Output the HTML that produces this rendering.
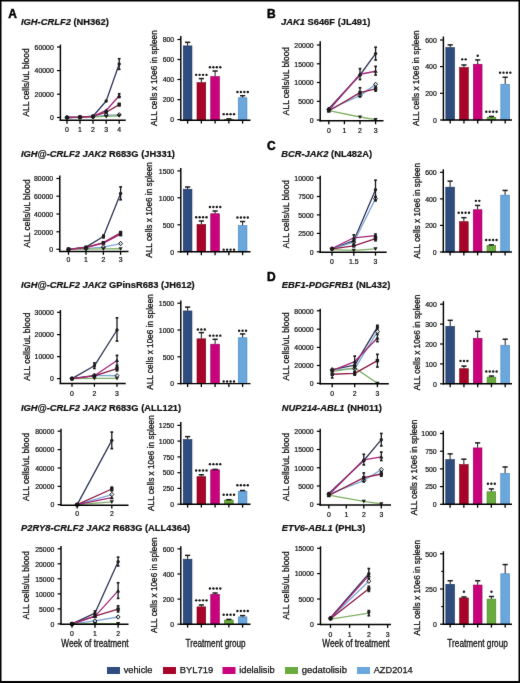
<!DOCTYPE html>
<html><head><meta charset="utf-8"><style>
html,body{margin:0;padding:0;background:#fff;}
svg{display:block;will-change:transform;}
text{font-family:"Liberation Sans", sans-serif;fill:#111;stroke:#111;stroke-width:0.22px;}
text.tk{stroke-width:0.2px;}
text.lg{stroke-width:0.25px;}
text.pl{stroke-width:0.45px;stroke:#000;fill:#000;}
text.xt{stroke-width:0.3px;}
text.yt{stroke-width:0.3px;}
</style></head><body>
<svg width="520" height="683" viewBox="0 0 520 683">
<defs><filter id="soft" x="0" y="0" width="520" height="683" filterUnits="userSpaceOnUse" color-interpolation-filters="sRGB"><feConvolveMatrix order="3" kernelMatrix="0.01 0.05 0.01 0.05 0.76 0.05 0.01 0.05 0.01" edgeMode="duplicate" preserveAlpha="true"/></filter></defs>
<g filter="url(#soft)">
<rect x="0" y="0" width="520" height="683" fill="#000"/>
<rect x="1.5" y="1.5" width="517.0" height="679.5" fill="#fff"/>
<text x="8.20" y="17.50" font-size="12" text-anchor="start" font-weight="bold" fill="#000" class="pl">A</text>
<text x="266.90" y="17.60" font-size="12" text-anchor="start" font-weight="bold" fill="#000" class="pl">B</text>
<text x="266.90" y="149.90" font-size="12" text-anchor="start" font-weight="bold" fill="#000" class="pl">C</text>
<text x="266.90" y="281.20" font-size="12" text-anchor="start" font-weight="bold" fill="#000" class="pl">D</text>
<text x="21.00" y="24.60" font-size="9.9" font-weight="bold" textLength="87.79" lengthAdjust="spacingAndGlyphs"><tspan font-style="italic">IGH-CRLF2</tspan> (NH362)</text>
<text x="20.90" y="157.10" font-size="9.9" font-weight="bold" textLength="154.08" lengthAdjust="spacingAndGlyphs"><tspan font-style="italic">IGH@-CRLF2 JAK2</tspan> R683G (JH331)</text>
<text x="20.90" y="288.00" font-size="9.9" font-weight="bold" textLength="173.82" lengthAdjust="spacingAndGlyphs"><tspan font-style="italic">IGH@-CRLF2 JAK2</tspan> GPinsR683 (JH612)</text>
<text x="20.90" y="410.70" font-size="9.9" font-weight="bold" textLength="160.30" lengthAdjust="spacingAndGlyphs"><tspan font-style="italic">IGH@-CRLF2 JAK2</tspan> R683G (ALL121)</text>
<text x="21.00" y="531.20" font-size="9.9" font-weight="bold" textLength="169.21" lengthAdjust="spacingAndGlyphs"><tspan font-style="italic">P2RY8-CRLF2 JAK2</tspan> R683G (ALL4364)</text>
<text x="281.00" y="24.90" font-size="9.9" font-weight="bold" textLength="89.38" lengthAdjust="spacingAndGlyphs"><tspan font-style="italic">JAK1</tspan> S646F (JL491)</text>
<text x="281.20" y="157.20" font-size="9.9" font-weight="bold" textLength="90.91" lengthAdjust="spacingAndGlyphs"><tspan font-style="italic">BCR-JAK2</tspan> (NL482A)</text>
<text x="281.70" y="288.20" font-size="9.9" font-weight="bold" textLength="108.58" lengthAdjust="spacingAndGlyphs"><tspan font-style="italic">EBF1-PDGFRB1</tspan> (NL432)</text>
<text x="281.70" y="410.80" font-size="9.9" font-weight="bold" textLength="100.28" lengthAdjust="spacingAndGlyphs"><tspan font-style="italic">NUP214-ABL1</tspan> (NH011)</text>
<text x="281.70" y="531.00" font-size="9.9" font-weight="bold" textLength="83.64" lengthAdjust="spacingAndGlyphs"><tspan font-style="italic">ETV6-ABL1</tspan> (PHL3)</text>
<path d="M67.00 117.50 L80.00 117.15 L93.00 116.21 L106.20 101.05 L119.20 64.04" fill="none" stroke="#2e3654" stroke-width="1.3" stroke-linejoin="round"/>
<path d="M67.00 117.50 L80.00 117.27 L93.00 116.80 L106.20 115.15 L119.20 114.80" fill="none" stroke="#80a8d6" stroke-width="1.3" stroke-linejoin="round"/>
<path d="M67.00 117.50 L80.00 117.27 L93.00 116.91 L106.20 116.33 L119.20 115.74" fill="none" stroke="#80b065" stroke-width="1.3" stroke-linejoin="round"/>
<path d="M67.00 117.50 L80.00 117.15 L93.00 116.44 L106.20 112.21 L119.20 104.58" fill="none" stroke="#8a1c44" stroke-width="1.3" stroke-linejoin="round"/>
<path d="M67.00 117.50 L80.00 117.15 L93.00 116.33 L106.20 110.45 L119.20 95.76" fill="none" stroke="#a2267a" stroke-width="1.3" stroke-linejoin="round"/>
<line x1="119.20" y1="69.32" x2="119.20" y2="58.75" stroke="#1a1a1a" stroke-width="1.3"/>
<line x1="117.85" y1="69.32" x2="120.55" y2="69.32" stroke="#1a1a1a" stroke-width="1.7"/>
<line x1="117.85" y1="58.75" x2="120.55" y2="58.75" stroke="#1a1a1a" stroke-width="1.7"/>
<line x1="119.20" y1="105.75" x2="119.20" y2="103.40" stroke="#1a1a1a" stroke-width="1.3"/>
<line x1="117.85" y1="105.75" x2="120.55" y2="105.75" stroke="#1a1a1a" stroke-width="1.7"/>
<line x1="117.85" y1="103.40" x2="120.55" y2="103.40" stroke="#1a1a1a" stroke-width="1.7"/>
<line x1="119.20" y1="97.53" x2="119.20" y2="93.77" stroke="#1a1a1a" stroke-width="1.3"/>
<line x1="117.85" y1="97.53" x2="120.55" y2="97.53" stroke="#1a1a1a" stroke-width="1.7"/>
<line x1="117.85" y1="93.77" x2="120.55" y2="93.77" stroke="#1a1a1a" stroke-width="1.7"/>
<circle cx="67.00" cy="117.50" r="1.7" fill="#1c1c1c"/>
<circle cx="80.00" cy="117.15" r="1.7" fill="#1c1c1c"/>
<circle cx="93.00" cy="116.21" r="1.7" fill="#1c1c1c"/>
<circle cx="106.20" cy="101.05" r="1.7" fill="#1c1c1c"/>
<circle cx="119.20" cy="64.04" r="1.7" fill="#1c1c1c"/>
<path d="M67.00 115.30L69.00 117.50L67.00 119.70L65.00 117.50Z" fill="none" stroke="#1c1c1c" stroke-width="1"/>
<path d="M80.00 115.06L82.00 117.27L80.00 119.47L78.00 117.27Z" fill="none" stroke="#1c1c1c" stroke-width="1"/>
<path d="M93.00 114.59L95.00 116.80L93.00 119.00L91.00 116.80Z" fill="none" stroke="#1c1c1c" stroke-width="1"/>
<path d="M106.20 112.95L108.20 115.15L106.20 117.35L104.20 115.15Z" fill="none" stroke="#1c1c1c" stroke-width="1"/>
<path d="M119.20 112.60L121.20 114.80L119.20 117.00L117.20 114.80Z" fill="none" stroke="#1c1c1c" stroke-width="1"/>
<path d="M67.00 119.60L69.10 115.90L64.90 115.90Z" fill="#1c1c1c"/>
<path d="M80.00 119.36L82.10 115.67L77.90 115.67Z" fill="#1c1c1c"/>
<path d="M93.00 119.01L95.10 115.31L90.90 115.31Z" fill="#1c1c1c"/>
<path d="M106.20 118.42L108.30 114.73L104.10 114.73Z" fill="#1c1c1c"/>
<path d="M119.20 117.84L121.30 114.14L117.10 114.14Z" fill="#1c1c1c"/>
<rect x="65.30" y="115.80" width="3.40" height="3.40" fill="#1c1c1c"/>
<rect x="78.30" y="115.45" width="3.40" height="3.40" fill="#1c1c1c"/>
<rect x="91.30" y="114.74" width="3.40" height="3.40" fill="#1c1c1c"/>
<rect x="104.50" y="110.51" width="3.40" height="3.40" fill="#1c1c1c"/>
<rect x="117.50" y="102.88" width="3.40" height="3.40" fill="#1c1c1c"/>
<path d="M67.00 115.40L69.10 119.10L64.90 119.10Z" fill="#1c1c1c"/>
<path d="M80.00 115.05L82.10 118.75L77.90 118.75Z" fill="#1c1c1c"/>
<path d="M93.00 114.23L95.10 117.92L90.90 117.92Z" fill="#1c1c1c"/>
<path d="M106.20 108.35L108.30 112.05L104.10 112.05Z" fill="#1c1c1c"/>
<path d="M119.20 93.66L121.30 97.36L117.10 97.36Z" fill="#1c1c1c"/>
<line x1="60.40" y1="44.60" x2="60.40" y2="121.00" stroke="#000" stroke-width="1.45"/>
<line x1="59.70" y1="120.30" x2="125.70" y2="120.30" stroke="#000" stroke-width="1.45"/>
<line x1="57.00" y1="47.00" x2="60.40" y2="47.00" stroke="#000" stroke-width="1.2"/>
<text x="53.80" y="49.75" font-size="6.3" text-anchor="end" textLength="19.25" lengthAdjust="spacingAndGlyphs" class="tk">60000</text>
<line x1="57.00" y1="70.60" x2="60.40" y2="70.60" stroke="#000" stroke-width="1.2"/>
<text x="53.80" y="73.35" font-size="6.3" text-anchor="end" textLength="19.25" lengthAdjust="spacingAndGlyphs" class="tk">40000</text>
<line x1="57.00" y1="94.20" x2="60.40" y2="94.20" stroke="#000" stroke-width="1.2"/>
<text x="53.80" y="96.95" font-size="6.3" text-anchor="end" textLength="19.25" lengthAdjust="spacingAndGlyphs" class="tk">20000</text>
<line x1="57.00" y1="117.50" x2="60.40" y2="117.50" stroke="#000" stroke-width="1.2"/>
<text x="53.80" y="120.25" font-size="6.3" text-anchor="end" textLength="3.85" lengthAdjust="spacingAndGlyphs" class="tk">0</text>
<line x1="67.00" y1="120.30" x2="67.00" y2="123.70" stroke="#000" stroke-width="1.3"/>
<text x="67.00" y="132.45" font-size="6.3" text-anchor="middle" textLength="3.85" lengthAdjust="spacingAndGlyphs" class="tk">0</text>
<line x1="80.00" y1="120.30" x2="80.00" y2="123.70" stroke="#000" stroke-width="1.3"/>
<text x="80.00" y="132.45" font-size="6.3" text-anchor="middle" textLength="3.85" lengthAdjust="spacingAndGlyphs" class="tk">1</text>
<line x1="93.00" y1="120.30" x2="93.00" y2="123.70" stroke="#000" stroke-width="1.3"/>
<text x="93.00" y="132.45" font-size="6.3" text-anchor="middle" textLength="3.85" lengthAdjust="spacingAndGlyphs" class="tk">2</text>
<line x1="106.20" y1="120.30" x2="106.20" y2="123.70" stroke="#000" stroke-width="1.3"/>
<text x="106.20" y="132.45" font-size="6.3" text-anchor="middle" textLength="3.85" lengthAdjust="spacingAndGlyphs" class="tk">3</text>
<line x1="119.20" y1="120.30" x2="119.20" y2="123.70" stroke="#000" stroke-width="1.3"/>
<text x="119.20" y="132.45" font-size="6.3" text-anchor="middle" textLength="3.85" lengthAdjust="spacingAndGlyphs" class="tk">4</text>
<text x="29.40" y="82.45" font-size="9.8" text-anchor="middle" textLength="68.20" lengthAdjust="spacingAndGlyphs" transform="rotate(-90 29.40 82.45)" class="yt">ALL cells/uL blood</text>
<rect x="183.25" y="45.90" width="8.70" height="74.30" fill="#2e4c7e" stroke="#1c3358" stroke-width="0.6"/>
<line x1="187.60" y1="42.12" x2="187.60" y2="45.65" stroke="#1c1c1c" stroke-width="1.0"/>
<line x1="185.00" y1="42.32" x2="190.20" y2="42.32" stroke="#1c1c1c" stroke-width="1.5"/>
<rect x="197.00" y="82.67" width="8.70" height="37.53" fill="#a80429" stroke="#780019" stroke-width="0.6"/>
<line x1="201.35" y1="78.39" x2="201.35" y2="82.42" stroke="#1c1c1c" stroke-width="1.0"/>
<line x1="198.75" y1="78.59" x2="203.95" y2="78.59" stroke="#1c1c1c" stroke-width="1.5"/>
<circle cx="196.17" cy="74.86" r="1.2" fill="#151515"/>
<circle cx="199.62" cy="74.86" r="1.2" fill="#151515"/>
<circle cx="203.07" cy="74.86" r="1.2" fill="#151515"/>
<circle cx="206.53" cy="74.86" r="1.2" fill="#151515"/>
<rect x="210.75" y="76.62" width="8.70" height="43.58" fill="#c8037b" stroke="#94005a" stroke-width="0.6"/>
<line x1="215.10" y1="70.83" x2="215.10" y2="76.37" stroke="#1c1c1c" stroke-width="1.0"/>
<line x1="212.50" y1="71.03" x2="217.70" y2="71.03" stroke="#1c1c1c" stroke-width="1.5"/>
<circle cx="209.92" cy="67.31" r="1.2" fill="#151515"/>
<circle cx="213.38" cy="67.31" r="1.2" fill="#151515"/>
<circle cx="216.82" cy="67.31" r="1.2" fill="#151515"/>
<circle cx="220.28" cy="67.31" r="1.2" fill="#151515"/>
<rect x="224.50" y="119.64" width="8.70" height="0.56" fill="#6aab3e" stroke="#4a8028" stroke-width="0.6"/>
<line x1="228.85" y1="118.69" x2="228.85" y2="119.39" stroke="#1c1c1c" stroke-width="1.0"/>
<line x1="226.25" y1="118.89" x2="231.45" y2="118.89" stroke="#1c1c1c" stroke-width="1.5"/>
<circle cx="223.67" cy="114.16" r="1.2" fill="#151515"/>
<circle cx="227.12" cy="114.16" r="1.2" fill="#151515"/>
<circle cx="230.57" cy="114.16" r="1.2" fill="#151515"/>
<circle cx="234.03" cy="114.16" r="1.2" fill="#151515"/>
<rect x="238.25" y="97.78" width="8.70" height="22.42" fill="#6aa7dd" stroke="#4a82b8" stroke-width="0.6"/>
<line x1="242.60" y1="95.52" x2="242.60" y2="97.53" stroke="#1c1c1c" stroke-width="1.0"/>
<line x1="240.00" y1="95.72" x2="245.20" y2="95.72" stroke="#1c1c1c" stroke-width="1.5"/>
<circle cx="237.42" cy="91.99" r="1.2" fill="#151515"/>
<circle cx="240.88" cy="91.99" r="1.2" fill="#151515"/>
<circle cx="244.32" cy="91.99" r="1.2" fill="#151515"/>
<circle cx="247.78" cy="91.99" r="1.2" fill="#151515"/>
<line x1="180.80" y1="36.00" x2="180.80" y2="120.90" stroke="#000" stroke-width="1.45"/>
<line x1="180.10" y1="120.20" x2="250.50" y2="120.20" stroke="#000" stroke-width="1.45"/>
<line x1="177.40" y1="39.50" x2="180.80" y2="39.50" stroke="#000" stroke-width="1.2"/>
<text x="174.20" y="42.25" font-size="6.3" text-anchor="end" textLength="11.55" lengthAdjust="spacingAndGlyphs" class="tk">800</text>
<line x1="177.40" y1="59.50" x2="180.80" y2="59.50" stroke="#000" stroke-width="1.2"/>
<text x="174.20" y="62.25" font-size="6.3" text-anchor="end" textLength="11.55" lengthAdjust="spacingAndGlyphs" class="tk">600</text>
<line x1="177.40" y1="79.50" x2="180.80" y2="79.50" stroke="#000" stroke-width="1.2"/>
<text x="174.20" y="82.25" font-size="6.3" text-anchor="end" textLength="11.55" lengthAdjust="spacingAndGlyphs" class="tk">400</text>
<line x1="177.40" y1="99.60" x2="180.80" y2="99.60" stroke="#000" stroke-width="1.2"/>
<text x="174.20" y="102.35" font-size="6.3" text-anchor="end" textLength="11.55" lengthAdjust="spacingAndGlyphs" class="tk">200</text>
<line x1="177.40" y1="119.60" x2="180.80" y2="119.60" stroke="#000" stroke-width="1.2"/>
<text x="174.20" y="122.35" font-size="6.3" text-anchor="end" textLength="3.85" lengthAdjust="spacingAndGlyphs" class="tk">0</text>
<line x1="187.60" y1="120.20" x2="187.60" y2="123.60" stroke="#000" stroke-width="1.3"/>
<line x1="201.35" y1="120.20" x2="201.35" y2="123.60" stroke="#000" stroke-width="1.3"/>
<line x1="215.10" y1="120.20" x2="215.10" y2="123.60" stroke="#000" stroke-width="1.3"/>
<line x1="228.85" y1="120.20" x2="228.85" y2="123.60" stroke="#000" stroke-width="1.3"/>
<line x1="242.60" y1="120.20" x2="242.60" y2="123.60" stroke="#000" stroke-width="1.3"/>
<text x="157.20" y="78.10" font-size="9.8" text-anchor="middle" textLength="95.70" lengthAdjust="spacingAndGlyphs" transform="rotate(-90 157.20 78.10)" class="yt">ALL cells x 10e6 in spleen</text>
<path d="M68.50 249.30 L86.00 247.09 L103.40 236.47 L120.60 193.55" fill="none" stroke="#2e3654" stroke-width="1.3" stroke-linejoin="round"/>
<path d="M68.50 249.30 L86.00 248.59 L103.40 247.09 L120.60 243.55" fill="none" stroke="#80a8d6" stroke-width="1.3" stroke-linejoin="round"/>
<path d="M68.50 249.30 L86.00 249.03 L103.40 248.86 L120.60 248.77" fill="none" stroke="#80b065" stroke-width="1.3" stroke-linejoin="round"/>
<path d="M68.50 249.30 L86.00 247.35 L103.40 242.66 L120.60 232.93" fill="none" stroke="#8a1c44" stroke-width="1.3" stroke-linejoin="round"/>
<path d="M68.50 249.30 L86.00 247.53 L103.40 243.11 L120.60 234.25" fill="none" stroke="#a2267a" stroke-width="1.3" stroke-linejoin="round"/>
<line x1="103.40" y1="237.80" x2="103.40" y2="235.14" stroke="#1a1a1a" stroke-width="1.3"/>
<line x1="102.05" y1="237.80" x2="104.75" y2="237.80" stroke="#1a1a1a" stroke-width="1.7"/>
<line x1="102.05" y1="235.14" x2="104.75" y2="235.14" stroke="#1a1a1a" stroke-width="1.7"/>
<line x1="120.60" y1="199.74" x2="120.60" y2="186.91" stroke="#1a1a1a" stroke-width="1.3"/>
<line x1="119.25" y1="199.74" x2="121.95" y2="199.74" stroke="#1a1a1a" stroke-width="1.7"/>
<line x1="119.25" y1="186.91" x2="121.95" y2="186.91" stroke="#1a1a1a" stroke-width="1.7"/>
<line x1="120.60" y1="234.25" x2="120.60" y2="231.60" stroke="#1a1a1a" stroke-width="1.3"/>
<line x1="119.25" y1="234.25" x2="121.95" y2="234.25" stroke="#1a1a1a" stroke-width="1.7"/>
<line x1="119.25" y1="231.60" x2="121.95" y2="231.60" stroke="#1a1a1a" stroke-width="1.7"/>
<line x1="120.60" y1="235.58" x2="120.60" y2="232.93" stroke="#1a1a1a" stroke-width="1.3"/>
<line x1="119.25" y1="235.58" x2="121.95" y2="235.58" stroke="#1a1a1a" stroke-width="1.7"/>
<line x1="119.25" y1="232.93" x2="121.95" y2="232.93" stroke="#1a1a1a" stroke-width="1.7"/>
<circle cx="68.50" cy="249.30" r="1.7" fill="#1c1c1c"/>
<circle cx="86.00" cy="247.09" r="1.7" fill="#1c1c1c"/>
<circle cx="103.40" cy="236.47" r="1.7" fill="#1c1c1c"/>
<circle cx="120.60" cy="193.55" r="1.7" fill="#1c1c1c"/>
<path d="M68.50 247.10L70.50 249.30L68.50 251.50L66.50 249.30Z" fill="none" stroke="#1c1c1c" stroke-width="1"/>
<path d="M86.00 246.39L88.00 248.59L86.00 250.79L84.00 248.59Z" fill="none" stroke="#1c1c1c" stroke-width="1"/>
<path d="M103.40 244.89L105.40 247.09L103.40 249.29L101.40 247.09Z" fill="none" stroke="#1c1c1c" stroke-width="1"/>
<path d="M120.60 241.35L122.60 243.55L120.60 245.75L118.60 243.55Z" fill="none" stroke="#1c1c1c" stroke-width="1"/>
<path d="M68.50 251.40L70.60 247.70L66.40 247.70Z" fill="#1c1c1c"/>
<path d="M86.00 251.13L88.10 247.43L83.90 247.43Z" fill="#1c1c1c"/>
<path d="M103.40 250.96L105.50 247.26L101.30 247.26Z" fill="#1c1c1c"/>
<path d="M120.60 250.87L122.70 247.17L118.50 247.17Z" fill="#1c1c1c"/>
<rect x="66.80" y="247.60" width="3.40" height="3.40" fill="#1c1c1c"/>
<rect x="84.30" y="245.65" width="3.40" height="3.40" fill="#1c1c1c"/>
<rect x="101.70" y="240.96" width="3.40" height="3.40" fill="#1c1c1c"/>
<rect x="118.90" y="231.23" width="3.40" height="3.40" fill="#1c1c1c"/>
<path d="M68.50 247.20L70.60 250.90L66.40 250.90Z" fill="#1c1c1c"/>
<path d="M86.00 245.43L88.10 249.13L83.90 249.13Z" fill="#1c1c1c"/>
<path d="M103.40 241.01L105.50 244.71L101.30 244.71Z" fill="#1c1c1c"/>
<path d="M120.60 232.16L122.70 235.85L118.50 235.85Z" fill="#1c1c1c"/>
<line x1="59.80" y1="175.40" x2="59.80" y2="252.10" stroke="#000" stroke-width="1.45"/>
<line x1="59.10" y1="251.40" x2="128.50" y2="251.40" stroke="#000" stroke-width="1.45"/>
<line x1="56.40" y1="178.50" x2="59.80" y2="178.50" stroke="#000" stroke-width="1.2"/>
<text x="53.20" y="181.25" font-size="6.3" text-anchor="end" textLength="19.25" lengthAdjust="spacingAndGlyphs" class="tk">80000</text>
<line x1="56.40" y1="196.20" x2="59.80" y2="196.20" stroke="#000" stroke-width="1.2"/>
<text x="53.20" y="198.95" font-size="6.3" text-anchor="end" textLength="19.25" lengthAdjust="spacingAndGlyphs" class="tk">60000</text>
<line x1="56.40" y1="214.00" x2="59.80" y2="214.00" stroke="#000" stroke-width="1.2"/>
<text x="53.20" y="216.75" font-size="6.3" text-anchor="end" textLength="19.25" lengthAdjust="spacingAndGlyphs" class="tk">40000</text>
<line x1="56.40" y1="231.80" x2="59.80" y2="231.80" stroke="#000" stroke-width="1.2"/>
<text x="53.20" y="234.55" font-size="6.3" text-anchor="end" textLength="19.25" lengthAdjust="spacingAndGlyphs" class="tk">20000</text>
<line x1="56.40" y1="249.30" x2="59.80" y2="249.30" stroke="#000" stroke-width="1.2"/>
<text x="53.20" y="252.05" font-size="6.3" text-anchor="end" textLength="3.85" lengthAdjust="spacingAndGlyphs" class="tk">0</text>
<line x1="68.50" y1="251.40" x2="68.50" y2="254.80" stroke="#000" stroke-width="1.3"/>
<text x="68.50" y="262.35" font-size="6.3" text-anchor="middle" textLength="3.85" lengthAdjust="spacingAndGlyphs" class="tk">0</text>
<line x1="86.00" y1="251.40" x2="86.00" y2="254.80" stroke="#000" stroke-width="1.3"/>
<text x="86.00" y="262.35" font-size="6.3" text-anchor="middle" textLength="3.85" lengthAdjust="spacingAndGlyphs" class="tk">1</text>
<line x1="103.40" y1="251.40" x2="103.40" y2="254.80" stroke="#000" stroke-width="1.3"/>
<text x="103.40" y="262.35" font-size="6.3" text-anchor="middle" textLength="3.85" lengthAdjust="spacingAndGlyphs" class="tk">2</text>
<line x1="120.60" y1="251.40" x2="120.60" y2="254.80" stroke="#000" stroke-width="1.3"/>
<text x="120.60" y="262.35" font-size="6.3" text-anchor="middle" textLength="3.85" lengthAdjust="spacingAndGlyphs" class="tk">3</text>
<text x="29.60" y="213.40" font-size="9.8" text-anchor="middle" textLength="68.20" lengthAdjust="spacingAndGlyphs" transform="rotate(-90 29.60 213.40)" class="yt">ALL cells/uL blood</text>
<rect x="183.25" y="189.22" width="8.70" height="62.58" fill="#2e4c7e" stroke="#1c3358" stroke-width="0.6"/>
<line x1="187.60" y1="186.81" x2="187.60" y2="188.97" stroke="#1c1c1c" stroke-width="1.0"/>
<line x1="185.00" y1="187.01" x2="190.20" y2="187.01" stroke="#1c1c1c" stroke-width="1.5"/>
<rect x="197.00" y="224.54" width="8.70" height="27.26" fill="#a80429" stroke="#780019" stroke-width="0.6"/>
<line x1="201.35" y1="220.79" x2="201.35" y2="224.29" stroke="#1c1c1c" stroke-width="1.0"/>
<line x1="198.75" y1="220.99" x2="203.95" y2="220.99" stroke="#1c1c1c" stroke-width="1.5"/>
<circle cx="196.17" cy="217.28" r="1.2" fill="#151515"/>
<circle cx="199.62" cy="217.28" r="1.2" fill="#151515"/>
<circle cx="203.07" cy="217.28" r="1.2" fill="#151515"/>
<circle cx="206.53" cy="217.28" r="1.2" fill="#151515"/>
<rect x="210.75" y="213.76" width="8.70" height="38.04" fill="#c8037b" stroke="#94005a" stroke-width="0.6"/>
<line x1="215.10" y1="210.81" x2="215.10" y2="213.51" stroke="#1c1c1c" stroke-width="1.0"/>
<line x1="212.50" y1="211.01" x2="217.70" y2="211.01" stroke="#1c1c1c" stroke-width="1.5"/>
<circle cx="209.92" cy="207.04" r="1.2" fill="#151515"/>
<circle cx="213.38" cy="207.04" r="1.2" fill="#151515"/>
<circle cx="216.82" cy="207.04" r="1.2" fill="#151515"/>
<circle cx="220.28" cy="207.04" r="1.2" fill="#151515"/>
<circle cx="223.67" cy="249.64" r="1.2" fill="#151515"/>
<circle cx="227.12" cy="249.64" r="1.2" fill="#151515"/>
<circle cx="230.57" cy="249.64" r="1.2" fill="#151515"/>
<circle cx="234.03" cy="249.64" r="1.2" fill="#151515"/>
<rect x="238.25" y="225.62" width="8.70" height="26.18" fill="#6aa7dd" stroke="#4a82b8" stroke-width="0.6"/>
<line x1="242.60" y1="221.33" x2="242.60" y2="225.37" stroke="#1c1c1c" stroke-width="1.0"/>
<line x1="240.00" y1="221.53" x2="245.20" y2="221.53" stroke="#1c1c1c" stroke-width="1.5"/>
<circle cx="237.42" cy="217.55" r="1.2" fill="#151515"/>
<circle cx="240.88" cy="217.55" r="1.2" fill="#151515"/>
<circle cx="244.32" cy="217.55" r="1.2" fill="#151515"/>
<circle cx="247.78" cy="217.55" r="1.2" fill="#151515"/>
<line x1="180.80" y1="168.00" x2="180.80" y2="252.50" stroke="#000" stroke-width="1.45"/>
<line x1="180.10" y1="251.80" x2="250.50" y2="251.80" stroke="#000" stroke-width="1.45"/>
<line x1="177.40" y1="170.90" x2="180.80" y2="170.90" stroke="#000" stroke-width="1.2"/>
<text x="174.20" y="173.65" font-size="6.3" text-anchor="end" textLength="15.40" lengthAdjust="spacingAndGlyphs" class="tk">1500</text>
<line x1="177.40" y1="197.80" x2="180.80" y2="197.80" stroke="#000" stroke-width="1.2"/>
<text x="174.20" y="200.55" font-size="6.3" text-anchor="end" textLength="15.40" lengthAdjust="spacingAndGlyphs" class="tk">1000</text>
<line x1="177.40" y1="224.80" x2="180.80" y2="224.80" stroke="#000" stroke-width="1.2"/>
<text x="174.20" y="227.55" font-size="6.3" text-anchor="end" textLength="11.55" lengthAdjust="spacingAndGlyphs" class="tk">500</text>
<line x1="177.40" y1="251.80" x2="180.80" y2="251.80" stroke="#000" stroke-width="1.2"/>
<text x="174.20" y="254.55" font-size="6.3" text-anchor="end" textLength="3.85" lengthAdjust="spacingAndGlyphs" class="tk">0</text>
<line x1="187.60" y1="251.80" x2="187.60" y2="255.20" stroke="#000" stroke-width="1.3"/>
<line x1="201.35" y1="251.80" x2="201.35" y2="255.20" stroke="#000" stroke-width="1.3"/>
<line x1="215.10" y1="251.80" x2="215.10" y2="255.20" stroke="#000" stroke-width="1.3"/>
<line x1="228.85" y1="251.80" x2="228.85" y2="255.20" stroke="#000" stroke-width="1.3"/>
<line x1="242.60" y1="251.80" x2="242.60" y2="255.20" stroke="#000" stroke-width="1.3"/>
<text x="152.40" y="209.90" font-size="9.8" text-anchor="middle" textLength="95.70" lengthAdjust="spacingAndGlyphs" transform="rotate(-90 152.40 209.90)" class="yt">ALL cells x 10e6 in spleen</text>
<path d="M72.00 378.60 L94.40 365.78 L117.00 329.98" fill="none" stroke="#2e3654" stroke-width="1.3" stroke-linejoin="round"/>
<path d="M72.00 378.60 L94.40 375.29 L117.00 375.73" fill="none" stroke="#80a8d6" stroke-width="1.3" stroke-linejoin="round"/>
<path d="M72.00 378.60 L94.40 378.38 L117.00 378.38" fill="none" stroke="#80b065" stroke-width="1.3" stroke-linejoin="round"/>
<path d="M72.00 378.60 L94.40 375.95 L117.00 368.66" fill="none" stroke="#8a1c44" stroke-width="1.3" stroke-linejoin="round"/>
<path d="M72.00 378.60 L94.40 375.73 L117.00 360.48" fill="none" stroke="#a2267a" stroke-width="1.3" stroke-linejoin="round"/>
<line x1="94.40" y1="368.43" x2="94.40" y2="362.91" stroke="#1a1a1a" stroke-width="1.3"/>
<line x1="93.05" y1="368.43" x2="95.75" y2="368.43" stroke="#1a1a1a" stroke-width="1.7"/>
<line x1="93.05" y1="362.91" x2="95.75" y2="362.91" stroke="#1a1a1a" stroke-width="1.7"/>
<line x1="117.00" y1="341.03" x2="117.00" y2="317.82" stroke="#1a1a1a" stroke-width="1.3"/>
<line x1="115.65" y1="341.03" x2="118.35" y2="341.03" stroke="#1a1a1a" stroke-width="1.7"/>
<line x1="115.65" y1="317.82" x2="118.35" y2="317.82" stroke="#1a1a1a" stroke-width="1.7"/>
<line x1="117.00" y1="370.87" x2="117.00" y2="366.44" stroke="#1a1a1a" stroke-width="1.3"/>
<line x1="115.65" y1="370.87" x2="118.35" y2="370.87" stroke="#1a1a1a" stroke-width="1.7"/>
<line x1="115.65" y1="366.44" x2="118.35" y2="366.44" stroke="#1a1a1a" stroke-width="1.7"/>
<line x1="117.00" y1="365.34" x2="117.00" y2="355.40" stroke="#1a1a1a" stroke-width="1.3"/>
<line x1="115.65" y1="365.34" x2="118.35" y2="365.34" stroke="#1a1a1a" stroke-width="1.7"/>
<line x1="115.65" y1="355.40" x2="118.35" y2="355.40" stroke="#1a1a1a" stroke-width="1.7"/>
<circle cx="72.00" cy="378.60" r="1.7" fill="#1c1c1c"/>
<circle cx="94.40" cy="365.78" r="1.7" fill="#1c1c1c"/>
<circle cx="117.00" cy="329.98" r="1.7" fill="#1c1c1c"/>
<path d="M72.00 376.40L74.00 378.60L72.00 380.80L70.00 378.60Z" fill="none" stroke="#1c1c1c" stroke-width="1"/>
<path d="M94.40 373.09L96.40 375.29L94.40 377.49L92.40 375.29Z" fill="none" stroke="#1c1c1c" stroke-width="1"/>
<path d="M117.00 373.53L119.00 375.73L117.00 377.93L115.00 375.73Z" fill="none" stroke="#1c1c1c" stroke-width="1"/>
<path d="M72.00 380.70L74.10 377.00L69.90 377.00Z" fill="#1c1c1c"/>
<path d="M94.40 380.48L96.50 376.78L92.30 376.78Z" fill="#1c1c1c"/>
<path d="M117.00 380.48L119.10 376.78L114.90 376.78Z" fill="#1c1c1c"/>
<rect x="70.30" y="376.90" width="3.40" height="3.40" fill="#1c1c1c"/>
<rect x="92.70" y="374.25" width="3.40" height="3.40" fill="#1c1c1c"/>
<rect x="115.30" y="366.96" width="3.40" height="3.40" fill="#1c1c1c"/>
<path d="M72.00 376.50L74.10 380.20L69.90 380.20Z" fill="#1c1c1c"/>
<path d="M94.40 373.63L96.50 377.33L92.30 377.33Z" fill="#1c1c1c"/>
<path d="M117.00 358.38L119.10 362.08L114.90 362.08Z" fill="#1c1c1c"/>
<line x1="60.40" y1="310.00" x2="60.40" y2="384.10" stroke="#000" stroke-width="1.45"/>
<line x1="59.70" y1="383.40" x2="125.70" y2="383.40" stroke="#000" stroke-width="1.45"/>
<line x1="57.00" y1="312.30" x2="60.40" y2="312.30" stroke="#000" stroke-width="1.2"/>
<text x="53.80" y="315.05" font-size="6.3" text-anchor="end" textLength="19.25" lengthAdjust="spacingAndGlyphs" class="tk">30000</text>
<line x1="57.00" y1="334.60" x2="60.40" y2="334.60" stroke="#000" stroke-width="1.2"/>
<text x="53.80" y="337.35" font-size="6.3" text-anchor="end" textLength="19.25" lengthAdjust="spacingAndGlyphs" class="tk">20000</text>
<line x1="57.00" y1="356.60" x2="60.40" y2="356.60" stroke="#000" stroke-width="1.2"/>
<text x="53.80" y="359.35" font-size="6.3" text-anchor="end" textLength="19.25" lengthAdjust="spacingAndGlyphs" class="tk">10000</text>
<line x1="57.00" y1="378.60" x2="60.40" y2="378.60" stroke="#000" stroke-width="1.2"/>
<text x="53.80" y="381.35" font-size="6.3" text-anchor="end" textLength="3.85" lengthAdjust="spacingAndGlyphs" class="tk">0</text>
<line x1="72.00" y1="383.40" x2="72.00" y2="386.80" stroke="#000" stroke-width="1.3"/>
<text x="72.00" y="395.75" font-size="6.3" text-anchor="middle" textLength="3.85" lengthAdjust="spacingAndGlyphs" class="tk">0</text>
<line x1="94.40" y1="383.40" x2="94.40" y2="386.80" stroke="#000" stroke-width="1.3"/>
<text x="94.40" y="395.75" font-size="6.3" text-anchor="middle" textLength="3.85" lengthAdjust="spacingAndGlyphs" class="tk">2</text>
<line x1="117.00" y1="383.40" x2="117.00" y2="386.80" stroke="#000" stroke-width="1.3"/>
<text x="117.00" y="395.75" font-size="6.3" text-anchor="middle" textLength="3.85" lengthAdjust="spacingAndGlyphs" class="tk">3</text>
<text x="29.60" y="346.70" font-size="9.8" text-anchor="middle" textLength="68.20" lengthAdjust="spacingAndGlyphs" transform="rotate(-90 29.60 346.70)" class="yt">ALL cells/uL blood</text>
<rect x="183.25" y="310.95" width="8.70" height="72.65" fill="#2e4c7e" stroke="#1c3358" stroke-width="0.6"/>
<line x1="187.60" y1="306.95" x2="187.60" y2="310.70" stroke="#1c1c1c" stroke-width="1.0"/>
<line x1="185.00" y1="307.15" x2="190.20" y2="307.15" stroke="#1c1c1c" stroke-width="1.5"/>
<rect x="197.00" y="338.83" width="8.70" height="44.77" fill="#a80429" stroke="#780019" stroke-width="0.6"/>
<line x1="201.35" y1="332.41" x2="201.35" y2="338.58" stroke="#1c1c1c" stroke-width="1.0"/>
<line x1="198.75" y1="332.61" x2="203.95" y2="332.61" stroke="#1c1c1c" stroke-width="1.5"/>
<circle cx="197.90" cy="329.46" r="1.2" fill="#151515"/>
<circle cx="201.35" cy="329.46" r="1.2" fill="#151515"/>
<circle cx="204.80" cy="329.46" r="1.2" fill="#151515"/>
<rect x="210.75" y="344.19" width="8.70" height="39.41" fill="#c8037b" stroke="#94005a" stroke-width="0.6"/>
<line x1="215.10" y1="339.11" x2="215.10" y2="343.94" stroke="#1c1c1c" stroke-width="1.0"/>
<line x1="212.50" y1="339.31" x2="217.70" y2="339.31" stroke="#1c1c1c" stroke-width="1.5"/>
<circle cx="209.92" cy="335.63" r="1.2" fill="#151515"/>
<circle cx="213.38" cy="335.63" r="1.2" fill="#151515"/>
<circle cx="216.82" cy="335.63" r="1.2" fill="#151515"/>
<circle cx="220.28" cy="335.63" r="1.2" fill="#151515"/>
<circle cx="223.67" cy="381.46" r="1.2" fill="#151515"/>
<circle cx="227.12" cy="381.46" r="1.2" fill="#151515"/>
<circle cx="230.57" cy="381.46" r="1.2" fill="#151515"/>
<circle cx="234.03" cy="381.46" r="1.2" fill="#151515"/>
<rect x="238.25" y="337.75" width="8.70" height="45.85" fill="#6aa7dd" stroke="#4a82b8" stroke-width="0.6"/>
<line x1="242.60" y1="333.75" x2="242.60" y2="337.50" stroke="#1c1c1c" stroke-width="1.0"/>
<line x1="240.00" y1="333.95" x2="245.20" y2="333.95" stroke="#1c1c1c" stroke-width="1.5"/>
<circle cx="239.15" cy="330.80" r="1.2" fill="#151515"/>
<circle cx="242.60" cy="330.80" r="1.2" fill="#151515"/>
<circle cx="246.05" cy="330.80" r="1.2" fill="#151515"/>
<line x1="180.80" y1="300.40" x2="180.80" y2="384.30" stroke="#000" stroke-width="1.45"/>
<line x1="180.10" y1="383.60" x2="250.50" y2="383.60" stroke="#000" stroke-width="1.45"/>
<line x1="177.40" y1="303.20" x2="180.80" y2="303.20" stroke="#000" stroke-width="1.2"/>
<text x="174.20" y="305.95" font-size="6.3" text-anchor="end" textLength="15.40" lengthAdjust="spacingAndGlyphs" class="tk">1500</text>
<line x1="177.40" y1="330.00" x2="180.80" y2="330.00" stroke="#000" stroke-width="1.2"/>
<text x="174.20" y="332.75" font-size="6.3" text-anchor="end" textLength="15.40" lengthAdjust="spacingAndGlyphs" class="tk">1000</text>
<line x1="177.40" y1="356.80" x2="180.80" y2="356.80" stroke="#000" stroke-width="1.2"/>
<text x="174.20" y="359.55" font-size="6.3" text-anchor="end" textLength="11.55" lengthAdjust="spacingAndGlyphs" class="tk">500</text>
<line x1="177.40" y1="383.60" x2="180.80" y2="383.60" stroke="#000" stroke-width="1.2"/>
<text x="174.20" y="386.35" font-size="6.3" text-anchor="end" textLength="3.85" lengthAdjust="spacingAndGlyphs" class="tk">0</text>
<line x1="187.60" y1="383.60" x2="187.60" y2="387.00" stroke="#000" stroke-width="1.3"/>
<line x1="201.35" y1="383.60" x2="201.35" y2="387.00" stroke="#000" stroke-width="1.3"/>
<line x1="215.10" y1="383.60" x2="215.10" y2="387.00" stroke="#000" stroke-width="1.3"/>
<line x1="228.85" y1="383.60" x2="228.85" y2="387.00" stroke="#000" stroke-width="1.3"/>
<line x1="242.60" y1="383.60" x2="242.60" y2="387.00" stroke="#000" stroke-width="1.3"/>
<text x="152.70" y="342.00" font-size="9.8" text-anchor="middle" textLength="95.70" lengthAdjust="spacingAndGlyphs" transform="rotate(-90 152.70 342.00)" class="yt">ALL cells x 10e6 in spleen</text>
<path d="M77.20 504.60 L111.80 440.38" fill="none" stroke="#2e3654" stroke-width="1.3" stroke-linejoin="round"/>
<path d="M77.20 504.60 L111.80 494.51" fill="none" stroke="#80a8d6" stroke-width="1.3" stroke-linejoin="round"/>
<path d="M77.20 504.60 L111.80 501.85" fill="none" stroke="#80b065" stroke-width="1.3" stroke-linejoin="round"/>
<path d="M77.20 504.60 L111.80 489.00" fill="none" stroke="#8a1c44" stroke-width="1.3" stroke-linejoin="round"/>
<path d="M77.20 504.60 L111.80 497.72" fill="none" stroke="#a2267a" stroke-width="1.3" stroke-linejoin="round"/>
<line x1="111.80" y1="448.63" x2="111.80" y2="432.12" stroke="#1a1a1a" stroke-width="1.3"/>
<line x1="110.45" y1="448.63" x2="113.15" y2="448.63" stroke="#1a1a1a" stroke-width="1.7"/>
<line x1="110.45" y1="432.12" x2="113.15" y2="432.12" stroke="#1a1a1a" stroke-width="1.7"/>
<line x1="111.80" y1="490.84" x2="111.80" y2="487.17" stroke="#1a1a1a" stroke-width="1.3"/>
<line x1="110.45" y1="490.84" x2="113.15" y2="490.84" stroke="#1a1a1a" stroke-width="1.7"/>
<line x1="110.45" y1="487.17" x2="113.15" y2="487.17" stroke="#1a1a1a" stroke-width="1.7"/>
<circle cx="77.20" cy="504.60" r="1.7" fill="#1c1c1c"/>
<circle cx="111.80" cy="440.38" r="1.7" fill="#1c1c1c"/>
<path d="M77.20 502.40L79.20 504.60L77.20 506.80L75.20 504.60Z" fill="none" stroke="#1c1c1c" stroke-width="1"/>
<path d="M111.80 492.31L113.80 494.51L111.80 496.71L109.80 494.51Z" fill="none" stroke="#1c1c1c" stroke-width="1"/>
<path d="M77.20 506.70L79.30 503.00L75.10 503.00Z" fill="#1c1c1c"/>
<path d="M111.80 503.95L113.90 500.25L109.70 500.25Z" fill="#1c1c1c"/>
<rect x="75.50" y="502.90" width="3.40" height="3.40" fill="#1c1c1c"/>
<rect x="110.10" y="487.30" width="3.40" height="3.40" fill="#1c1c1c"/>
<path d="M77.20 502.50L79.30 506.20L75.10 506.20Z" fill="#1c1c1c"/>
<path d="M111.80 495.62L113.90 499.32L109.70 499.32Z" fill="#1c1c1c"/>
<line x1="61.00" y1="428.80" x2="61.00" y2="505.90" stroke="#000" stroke-width="1.45"/>
<line x1="60.30" y1="505.20" x2="128.50" y2="505.20" stroke="#000" stroke-width="1.45"/>
<line x1="57.60" y1="431.20" x2="61.00" y2="431.20" stroke="#000" stroke-width="1.2"/>
<text x="54.40" y="433.95" font-size="6.3" text-anchor="end" textLength="19.25" lengthAdjust="spacingAndGlyphs" class="tk">80000</text>
<line x1="57.60" y1="449.60" x2="61.00" y2="449.60" stroke="#000" stroke-width="1.2"/>
<text x="54.40" y="452.35" font-size="6.3" text-anchor="end" textLength="19.25" lengthAdjust="spacingAndGlyphs" class="tk">60000</text>
<line x1="57.60" y1="468.00" x2="61.00" y2="468.00" stroke="#000" stroke-width="1.2"/>
<text x="54.40" y="470.75" font-size="6.3" text-anchor="end" textLength="19.25" lengthAdjust="spacingAndGlyphs" class="tk">40000</text>
<line x1="57.60" y1="486.40" x2="61.00" y2="486.40" stroke="#000" stroke-width="1.2"/>
<text x="54.40" y="489.15" font-size="6.3" text-anchor="end" textLength="19.25" lengthAdjust="spacingAndGlyphs" class="tk">20000</text>
<line x1="57.60" y1="504.60" x2="61.00" y2="504.60" stroke="#000" stroke-width="1.2"/>
<text x="54.40" y="507.35" font-size="6.3" text-anchor="end" textLength="3.85" lengthAdjust="spacingAndGlyphs" class="tk">0</text>
<line x1="77.20" y1="505.20" x2="77.20" y2="508.60" stroke="#000" stroke-width="1.3"/>
<text x="77.20" y="516.15" font-size="6.3" text-anchor="middle" textLength="3.85" lengthAdjust="spacingAndGlyphs" class="tk">0</text>
<line x1="111.80" y1="505.20" x2="111.80" y2="508.60" stroke="#000" stroke-width="1.3"/>
<text x="111.80" y="516.15" font-size="6.3" text-anchor="middle" textLength="3.85" lengthAdjust="spacingAndGlyphs" class="tk">2</text>
<text x="29.40" y="467.00" font-size="9.8" text-anchor="middle" textLength="68.20" lengthAdjust="spacingAndGlyphs" transform="rotate(-90 29.40 467.00)" class="yt">ALL cells/uL blood</text>
<rect x="183.25" y="439.52" width="8.70" height="64.68" fill="#2e4c7e" stroke="#1c3358" stroke-width="0.6"/>
<line x1="187.60" y1="436.43" x2="187.60" y2="439.27" stroke="#1c1c1c" stroke-width="1.0"/>
<line x1="185.00" y1="436.63" x2="190.20" y2="436.63" stroke="#1c1c1c" stroke-width="1.5"/>
<rect x="197.00" y="476.71" width="8.70" height="27.49" fill="#a80429" stroke="#780019" stroke-width="0.6"/>
<line x1="201.35" y1="474.57" x2="201.35" y2="476.46" stroke="#1c1c1c" stroke-width="1.0"/>
<line x1="198.75" y1="474.77" x2="203.95" y2="474.77" stroke="#1c1c1c" stroke-width="1.5"/>
<circle cx="196.17" cy="470.47" r="1.2" fill="#151515"/>
<circle cx="199.62" cy="470.47" r="1.2" fill="#151515"/>
<circle cx="203.07" cy="470.47" r="1.2" fill="#151515"/>
<circle cx="206.53" cy="470.47" r="1.2" fill="#151515"/>
<rect x="210.75" y="469.78" width="8.70" height="34.42" fill="#c8037b" stroke="#94005a" stroke-width="0.6"/>
<line x1="215.10" y1="469.21" x2="215.10" y2="469.53" stroke="#1c1c1c" stroke-width="1.0"/>
<line x1="212.50" y1="469.41" x2="217.70" y2="469.41" stroke="#1c1c1c" stroke-width="1.5"/>
<circle cx="209.92" cy="464.17" r="1.2" fill="#151515"/>
<circle cx="213.38" cy="464.17" r="1.2" fill="#151515"/>
<circle cx="216.82" cy="464.17" r="1.2" fill="#151515"/>
<circle cx="220.28" cy="464.17" r="1.2" fill="#151515"/>
<rect x="224.50" y="500.04" width="8.70" height="4.16" fill="#6aab3e" stroke="#4a8028" stroke-width="0.6"/>
<line x1="228.85" y1="499.47" x2="228.85" y2="499.79" stroke="#1c1c1c" stroke-width="1.0"/>
<line x1="226.25" y1="499.67" x2="231.45" y2="499.67" stroke="#1c1c1c" stroke-width="1.5"/>
<circle cx="223.67" cy="494.74" r="1.2" fill="#151515"/>
<circle cx="227.12" cy="494.74" r="1.2" fill="#151515"/>
<circle cx="230.57" cy="494.74" r="1.2" fill="#151515"/>
<circle cx="234.03" cy="494.74" r="1.2" fill="#151515"/>
<rect x="238.25" y="491.21" width="8.70" height="12.99" fill="#6aa7dd" stroke="#4a82b8" stroke-width="0.6"/>
<line x1="242.60" y1="490.33" x2="242.60" y2="490.96" stroke="#1c1c1c" stroke-width="1.0"/>
<line x1="240.00" y1="490.53" x2="245.20" y2="490.53" stroke="#1c1c1c" stroke-width="1.5"/>
<circle cx="237.42" cy="485.29" r="1.2" fill="#151515"/>
<circle cx="240.88" cy="485.29" r="1.2" fill="#151515"/>
<circle cx="244.32" cy="485.29" r="1.2" fill="#151515"/>
<circle cx="247.78" cy="485.29" r="1.2" fill="#151515"/>
<line x1="180.80" y1="422.00" x2="180.80" y2="504.90" stroke="#000" stroke-width="1.45"/>
<line x1="180.10" y1="504.20" x2="250.50" y2="504.20" stroke="#000" stroke-width="1.45"/>
<line x1="177.40" y1="425.40" x2="180.80" y2="425.40" stroke="#000" stroke-width="1.2"/>
<text x="174.20" y="428.15" font-size="6.3" text-anchor="end" textLength="15.40" lengthAdjust="spacingAndGlyphs" class="tk">1250</text>
<line x1="177.40" y1="441.10" x2="180.80" y2="441.10" stroke="#000" stroke-width="1.2"/>
<text x="174.20" y="443.85" font-size="6.3" text-anchor="end" textLength="15.40" lengthAdjust="spacingAndGlyphs" class="tk">1000</text>
<line x1="177.40" y1="456.90" x2="180.80" y2="456.90" stroke="#000" stroke-width="1.2"/>
<text x="174.20" y="459.65" font-size="6.3" text-anchor="end" textLength="11.55" lengthAdjust="spacingAndGlyphs" class="tk">750</text>
<line x1="177.40" y1="472.70" x2="180.80" y2="472.70" stroke="#000" stroke-width="1.2"/>
<text x="174.20" y="475.45" font-size="6.3" text-anchor="end" textLength="11.55" lengthAdjust="spacingAndGlyphs" class="tk">500</text>
<line x1="177.40" y1="488.40" x2="180.80" y2="488.40" stroke="#000" stroke-width="1.2"/>
<text x="174.20" y="491.15" font-size="6.3" text-anchor="end" textLength="11.55" lengthAdjust="spacingAndGlyphs" class="tk">250</text>
<line x1="177.40" y1="504.20" x2="180.80" y2="504.20" stroke="#000" stroke-width="1.2"/>
<text x="174.20" y="506.95" font-size="6.3" text-anchor="end" textLength="3.85" lengthAdjust="spacingAndGlyphs" class="tk">0</text>
<line x1="187.60" y1="504.20" x2="187.60" y2="507.60" stroke="#000" stroke-width="1.3"/>
<line x1="201.35" y1="504.20" x2="201.35" y2="507.60" stroke="#000" stroke-width="1.3"/>
<line x1="215.10" y1="504.20" x2="215.10" y2="507.60" stroke="#000" stroke-width="1.3"/>
<line x1="228.85" y1="504.20" x2="228.85" y2="507.60" stroke="#000" stroke-width="1.3"/>
<line x1="242.60" y1="504.20" x2="242.60" y2="507.60" stroke="#000" stroke-width="1.3"/>
<text x="154.30" y="463.10" font-size="9.8" text-anchor="middle" textLength="95.70" lengthAdjust="spacingAndGlyphs" transform="rotate(-90 154.30 463.10)" class="yt">ALL cells x 10e6 in spleen</text>
<path d="M72.00 623.90 L95.00 613.09 L118.10 561.72" fill="none" stroke="#2e3654" stroke-width="1.3" stroke-linejoin="round"/>
<path d="M72.00 623.90 L95.00 620.90 L118.10 616.99" fill="none" stroke="#80a8d6" stroke-width="1.3" stroke-linejoin="round"/>
<path d="M72.00 623.90 L95.00 623.60 L118.10 623.60" fill="none" stroke="#80b065" stroke-width="1.3" stroke-linejoin="round"/>
<path d="M72.00 623.90 L95.00 616.09 L118.10 609.18" fill="none" stroke="#8a1c44" stroke-width="1.3" stroke-linejoin="round"/>
<path d="M72.00 623.90 L95.00 616.39 L118.10 590.86" fill="none" stroke="#a2267a" stroke-width="1.3" stroke-linejoin="round"/>
<line x1="95.00" y1="614.89" x2="95.00" y2="610.98" stroke="#1a1a1a" stroke-width="1.3"/>
<line x1="93.65" y1="614.89" x2="96.35" y2="614.89" stroke="#1a1a1a" stroke-width="1.7"/>
<line x1="93.65" y1="610.98" x2="96.35" y2="610.98" stroke="#1a1a1a" stroke-width="1.7"/>
<line x1="118.10" y1="565.92" x2="118.10" y2="557.21" stroke="#1a1a1a" stroke-width="1.3"/>
<line x1="116.75" y1="565.92" x2="119.45" y2="565.92" stroke="#1a1a1a" stroke-width="1.7"/>
<line x1="116.75" y1="557.21" x2="119.45" y2="557.21" stroke="#1a1a1a" stroke-width="1.7"/>
<line x1="118.10" y1="611.88" x2="118.10" y2="605.88" stroke="#1a1a1a" stroke-width="1.3"/>
<line x1="116.75" y1="611.88" x2="119.45" y2="611.88" stroke="#1a1a1a" stroke-width="1.7"/>
<line x1="116.75" y1="605.88" x2="119.45" y2="605.88" stroke="#1a1a1a" stroke-width="1.7"/>
<line x1="118.10" y1="598.37" x2="118.10" y2="582.75" stroke="#1a1a1a" stroke-width="1.3"/>
<line x1="116.75" y1="598.37" x2="119.45" y2="598.37" stroke="#1a1a1a" stroke-width="1.7"/>
<line x1="116.75" y1="582.75" x2="119.45" y2="582.75" stroke="#1a1a1a" stroke-width="1.7"/>
<circle cx="72.00" cy="623.90" r="1.7" fill="#1c1c1c"/>
<circle cx="95.00" cy="613.09" r="1.7" fill="#1c1c1c"/>
<circle cx="118.10" cy="561.72" r="1.7" fill="#1c1c1c"/>
<path d="M72.00 621.70L74.00 623.90L72.00 626.10L70.00 623.90Z" fill="none" stroke="#1c1c1c" stroke-width="1"/>
<path d="M95.00 618.70L97.00 620.90L95.00 623.10L93.00 620.90Z" fill="none" stroke="#1c1c1c" stroke-width="1"/>
<path d="M118.10 614.79L120.10 616.99L118.10 619.19L116.10 616.99Z" fill="none" stroke="#1c1c1c" stroke-width="1"/>
<path d="M72.00 626.00L74.10 622.30L69.90 622.30Z" fill="#1c1c1c"/>
<path d="M95.00 625.70L97.10 622.00L92.90 622.00Z" fill="#1c1c1c"/>
<path d="M118.10 625.70L120.20 622.00L116.00 622.00Z" fill="#1c1c1c"/>
<rect x="70.30" y="622.20" width="3.40" height="3.40" fill="#1c1c1c"/>
<rect x="93.30" y="614.39" width="3.40" height="3.40" fill="#1c1c1c"/>
<rect x="116.40" y="607.48" width="3.40" height="3.40" fill="#1c1c1c"/>
<path d="M72.00 621.80L74.10 625.50L69.90 625.50Z" fill="#1c1c1c"/>
<path d="M95.00 614.29L97.10 617.99L92.90 617.99Z" fill="#1c1c1c"/>
<path d="M118.10 588.76L120.20 592.46L116.00 592.46Z" fill="#1c1c1c"/>
<line x1="61.00" y1="546.00" x2="61.00" y2="625.00" stroke="#000" stroke-width="1.45"/>
<line x1="60.30" y1="624.30" x2="128.50" y2="624.30" stroke="#000" stroke-width="1.45"/>
<line x1="57.60" y1="548.80" x2="61.00" y2="548.80" stroke="#000" stroke-width="1.2"/>
<text x="54.40" y="551.55" font-size="6.3" text-anchor="end" textLength="19.25" lengthAdjust="spacingAndGlyphs" class="tk">25000</text>
<line x1="57.60" y1="563.80" x2="61.00" y2="563.80" stroke="#000" stroke-width="1.2"/>
<text x="54.40" y="566.55" font-size="6.3" text-anchor="end" textLength="19.25" lengthAdjust="spacingAndGlyphs" class="tk">20000</text>
<line x1="57.60" y1="578.80" x2="61.00" y2="578.80" stroke="#000" stroke-width="1.2"/>
<text x="54.40" y="581.55" font-size="6.3" text-anchor="end" textLength="19.25" lengthAdjust="spacingAndGlyphs" class="tk">15000</text>
<line x1="57.60" y1="593.90" x2="61.00" y2="593.90" stroke="#000" stroke-width="1.2"/>
<text x="54.40" y="596.65" font-size="6.3" text-anchor="end" textLength="19.25" lengthAdjust="spacingAndGlyphs" class="tk">10000</text>
<line x1="57.60" y1="608.90" x2="61.00" y2="608.90" stroke="#000" stroke-width="1.2"/>
<text x="54.40" y="611.65" font-size="6.3" text-anchor="end" textLength="15.40" lengthAdjust="spacingAndGlyphs" class="tk">5000</text>
<line x1="57.60" y1="623.90" x2="61.00" y2="623.90" stroke="#000" stroke-width="1.2"/>
<text x="54.40" y="626.65" font-size="6.3" text-anchor="end" textLength="3.85" lengthAdjust="spacingAndGlyphs" class="tk">0</text>
<line x1="72.00" y1="624.30" x2="72.00" y2="627.70" stroke="#000" stroke-width="1.3"/>
<text x="72.00" y="636.35" font-size="6.3" text-anchor="middle" textLength="3.85" lengthAdjust="spacingAndGlyphs" class="tk">0</text>
<line x1="95.00" y1="624.30" x2="95.00" y2="627.70" stroke="#000" stroke-width="1.3"/>
<text x="95.00" y="636.35" font-size="6.3" text-anchor="middle" textLength="3.85" lengthAdjust="spacingAndGlyphs" class="tk">1</text>
<line x1="118.10" y1="624.30" x2="118.10" y2="627.70" stroke="#000" stroke-width="1.3"/>
<text x="118.10" y="636.35" font-size="6.3" text-anchor="middle" textLength="3.85" lengthAdjust="spacingAndGlyphs" class="tk">2</text>
<text x="29.40" y="585.15" font-size="9.8" text-anchor="middle" textLength="68.20" lengthAdjust="spacingAndGlyphs" transform="rotate(-90 29.40 585.15)" class="yt">ALL cells/uL blood</text>
<text x="94.90" y="646.60" font-size="10.4" text-anchor="middle" textLength="67.30" lengthAdjust="spacingAndGlyphs" class="xt">Week of treatment</text>
<rect x="183.25" y="559.19" width="8.70" height="65.01" fill="#2e4c7e" stroke="#1c3358" stroke-width="0.6"/>
<line x1="187.60" y1="555.17" x2="187.60" y2="558.94" stroke="#1c1c1c" stroke-width="1.0"/>
<line x1="185.00" y1="555.38" x2="190.20" y2="555.38" stroke="#1c1c1c" stroke-width="1.5"/>
<rect x="197.00" y="606.88" width="8.70" height="17.32" fill="#a80429" stroke="#780019" stroke-width="0.6"/>
<line x1="201.35" y1="604.75" x2="201.35" y2="606.63" stroke="#1c1c1c" stroke-width="1.0"/>
<line x1="198.75" y1="604.95" x2="203.95" y2="604.95" stroke="#1c1c1c" stroke-width="1.5"/>
<circle cx="196.17" cy="600.36" r="1.2" fill="#151515"/>
<circle cx="199.62" cy="600.36" r="1.2" fill="#151515"/>
<circle cx="203.07" cy="600.36" r="1.2" fill="#151515"/>
<circle cx="206.53" cy="600.36" r="1.2" fill="#151515"/>
<rect x="210.75" y="594.33" width="8.70" height="29.87" fill="#c8037b" stroke="#94005a" stroke-width="0.6"/>
<line x1="215.10" y1="592.83" x2="215.10" y2="594.08" stroke="#1c1c1c" stroke-width="1.0"/>
<line x1="212.50" y1="593.03" x2="217.70" y2="593.03" stroke="#1c1c1c" stroke-width="1.5"/>
<circle cx="209.92" cy="588.43" r="1.2" fill="#151515"/>
<circle cx="213.38" cy="588.43" r="1.2" fill="#151515"/>
<circle cx="216.82" cy="588.43" r="1.2" fill="#151515"/>
<circle cx="220.28" cy="588.43" r="1.2" fill="#151515"/>
<rect x="224.50" y="620.06" width="8.70" height="4.14" fill="#6aab3e" stroke="#4a8028" stroke-width="0.6"/>
<line x1="228.85" y1="619.18" x2="228.85" y2="619.81" stroke="#1c1c1c" stroke-width="1.0"/>
<line x1="226.25" y1="619.38" x2="231.45" y2="619.38" stroke="#1c1c1c" stroke-width="1.5"/>
<circle cx="223.67" cy="614.79" r="1.2" fill="#151515"/>
<circle cx="227.12" cy="614.79" r="1.2" fill="#151515"/>
<circle cx="230.57" cy="614.79" r="1.2" fill="#151515"/>
<circle cx="234.03" cy="614.79" r="1.2" fill="#151515"/>
<rect x="238.25" y="616.92" width="8.70" height="7.28" fill="#6aa7dd" stroke="#4a82b8" stroke-width="0.6"/>
<line x1="242.60" y1="615.42" x2="242.60" y2="616.67" stroke="#1c1c1c" stroke-width="1.0"/>
<line x1="240.00" y1="615.62" x2="245.20" y2="615.62" stroke="#1c1c1c" stroke-width="1.5"/>
<circle cx="237.42" cy="611.02" r="1.2" fill="#151515"/>
<circle cx="240.88" cy="611.02" r="1.2" fill="#151515"/>
<circle cx="244.32" cy="611.02" r="1.2" fill="#151515"/>
<circle cx="247.78" cy="611.02" r="1.2" fill="#151515"/>
<line x1="180.80" y1="546.20" x2="180.80" y2="624.90" stroke="#000" stroke-width="1.45"/>
<line x1="180.10" y1="624.20" x2="250.50" y2="624.20" stroke="#000" stroke-width="1.45"/>
<line x1="177.40" y1="548.90" x2="180.80" y2="548.90" stroke="#000" stroke-width="1.2"/>
<text x="174.20" y="551.65" font-size="6.3" text-anchor="end" textLength="11.55" lengthAdjust="spacingAndGlyphs" class="tk">600</text>
<line x1="177.40" y1="574.00" x2="180.80" y2="574.00" stroke="#000" stroke-width="1.2"/>
<text x="174.20" y="576.75" font-size="6.3" text-anchor="end" textLength="11.55" lengthAdjust="spacingAndGlyphs" class="tk">400</text>
<line x1="177.40" y1="599.10" x2="180.80" y2="599.10" stroke="#000" stroke-width="1.2"/>
<text x="174.20" y="601.85" font-size="6.3" text-anchor="end" textLength="11.55" lengthAdjust="spacingAndGlyphs" class="tk">200</text>
<line x1="177.40" y1="624.20" x2="180.80" y2="624.20" stroke="#000" stroke-width="1.2"/>
<text x="174.20" y="626.95" font-size="6.3" text-anchor="end" textLength="3.85" lengthAdjust="spacingAndGlyphs" class="tk">0</text>
<line x1="187.60" y1="624.20" x2="187.60" y2="627.60" stroke="#000" stroke-width="1.3"/>
<line x1="201.35" y1="624.20" x2="201.35" y2="627.60" stroke="#000" stroke-width="1.3"/>
<line x1="215.10" y1="624.20" x2="215.10" y2="627.60" stroke="#000" stroke-width="1.3"/>
<line x1="228.85" y1="624.20" x2="228.85" y2="627.60" stroke="#000" stroke-width="1.3"/>
<line x1="242.60" y1="624.20" x2="242.60" y2="627.60" stroke="#000" stroke-width="1.3"/>
<text x="157.20" y="585.20" font-size="9.8" text-anchor="middle" textLength="95.70" lengthAdjust="spacingAndGlyphs" transform="rotate(-90 157.20 585.20)" class="yt">ALL cells x 10e6 in spleen</text>
<text x="215.60" y="646.60" font-size="10.4" text-anchor="middle" textLength="60.00" lengthAdjust="spacingAndGlyphs" class="xt">Treatment group</text>
<path d="M328.80 108.75 L360.00 75.00 L375.60 53.62" fill="none" stroke="#2e3654" stroke-width="1.3" stroke-linejoin="round"/>
<path d="M328.80 109.50 L360.00 95.62 L375.60 84.38" fill="none" stroke="#80a8d6" stroke-width="1.3" stroke-linejoin="round"/>
<path d="M328.80 110.62 L360.00 117.00 L375.60 119.62" fill="none" stroke="#80b065" stroke-width="1.3" stroke-linejoin="round"/>
<path d="M328.80 111.00 L360.00 92.62 L375.60 88.88" fill="none" stroke="#8a1c44" stroke-width="1.3" stroke-linejoin="round"/>
<path d="M328.80 110.25 L360.00 74.25 L375.60 71.25" fill="none" stroke="#a2267a" stroke-width="1.3" stroke-linejoin="round"/>
<line x1="375.60" y1="60.00" x2="375.60" y2="47.25" stroke="#1a1a1a" stroke-width="1.3"/>
<line x1="374.25" y1="60.00" x2="376.95" y2="60.00" stroke="#1a1a1a" stroke-width="1.7"/>
<line x1="374.25" y1="47.25" x2="376.95" y2="47.25" stroke="#1a1a1a" stroke-width="1.7"/>
<line x1="360.00" y1="96.75" x2="360.00" y2="87.75" stroke="#1a1a1a" stroke-width="1.3"/>
<line x1="358.65" y1="96.75" x2="361.35" y2="96.75" stroke="#1a1a1a" stroke-width="1.7"/>
<line x1="358.65" y1="87.75" x2="361.35" y2="87.75" stroke="#1a1a1a" stroke-width="1.7"/>
<line x1="375.60" y1="91.12" x2="375.60" y2="86.62" stroke="#1a1a1a" stroke-width="1.3"/>
<line x1="374.25" y1="91.12" x2="376.95" y2="91.12" stroke="#1a1a1a" stroke-width="1.7"/>
<line x1="374.25" y1="86.62" x2="376.95" y2="86.62" stroke="#1a1a1a" stroke-width="1.7"/>
<line x1="360.00" y1="79.50" x2="360.00" y2="68.62" stroke="#1a1a1a" stroke-width="1.3"/>
<line x1="358.65" y1="79.50" x2="361.35" y2="79.50" stroke="#1a1a1a" stroke-width="1.7"/>
<line x1="358.65" y1="68.62" x2="361.35" y2="68.62" stroke="#1a1a1a" stroke-width="1.7"/>
<line x1="375.60" y1="75.00" x2="375.60" y2="66.38" stroke="#1a1a1a" stroke-width="1.3"/>
<line x1="374.25" y1="75.00" x2="376.95" y2="75.00" stroke="#1a1a1a" stroke-width="1.7"/>
<line x1="374.25" y1="66.38" x2="376.95" y2="66.38" stroke="#1a1a1a" stroke-width="1.7"/>
<circle cx="328.80" cy="108.75" r="1.7" fill="#1c1c1c"/>
<circle cx="360.00" cy="75.00" r="1.7" fill="#1c1c1c"/>
<circle cx="375.60" cy="53.62" r="1.7" fill="#1c1c1c"/>
<path d="M328.80 107.30L330.80 109.50L328.80 111.70L326.80 109.50Z" fill="none" stroke="#1c1c1c" stroke-width="1"/>
<path d="M360.00 93.42L362.00 95.62L360.00 97.83L358.00 95.62Z" fill="none" stroke="#1c1c1c" stroke-width="1"/>
<path d="M375.60 82.17L377.60 84.38L375.60 86.58L373.60 84.38Z" fill="none" stroke="#1c1c1c" stroke-width="1"/>
<path d="M328.80 112.72L330.90 109.03L326.70 109.03Z" fill="#1c1c1c"/>
<path d="M360.00 119.10L362.10 115.40L357.90 115.40Z" fill="#1c1c1c"/>
<path d="M375.60 121.72L377.70 118.03L373.50 118.03Z" fill="#1c1c1c"/>
<rect x="327.10" y="109.30" width="3.40" height="3.40" fill="#1c1c1c"/>
<rect x="358.30" y="90.92" width="3.40" height="3.40" fill="#1c1c1c"/>
<rect x="373.90" y="87.17" width="3.40" height="3.40" fill="#1c1c1c"/>
<path d="M328.80 108.15L330.90 111.85L326.70 111.85Z" fill="#1c1c1c"/>
<path d="M360.00 72.15L362.10 75.85L357.90 75.85Z" fill="#1c1c1c"/>
<path d="M375.60 69.15L377.70 72.85L373.50 72.85Z" fill="#1c1c1c"/>
<line x1="320.20" y1="41.30" x2="320.20" y2="121.50" stroke="#000" stroke-width="1.45"/>
<line x1="319.50" y1="120.80" x2="383.50" y2="120.80" stroke="#000" stroke-width="1.45"/>
<line x1="316.80" y1="45.00" x2="320.20" y2="45.00" stroke="#000" stroke-width="1.2"/>
<text x="313.60" y="47.75" font-size="6.3" text-anchor="end" textLength="19.25" lengthAdjust="spacingAndGlyphs" class="tk">20000</text>
<line x1="316.80" y1="63.80" x2="320.20" y2="63.80" stroke="#000" stroke-width="1.2"/>
<text x="313.60" y="66.55" font-size="6.3" text-anchor="end" textLength="19.25" lengthAdjust="spacingAndGlyphs" class="tk">15000</text>
<line x1="316.80" y1="82.50" x2="320.20" y2="82.50" stroke="#000" stroke-width="1.2"/>
<text x="313.60" y="85.25" font-size="6.3" text-anchor="end" textLength="19.25" lengthAdjust="spacingAndGlyphs" class="tk">10000</text>
<line x1="316.80" y1="101.30" x2="320.20" y2="101.30" stroke="#000" stroke-width="1.2"/>
<text x="313.60" y="104.05" font-size="6.3" text-anchor="end" textLength="15.40" lengthAdjust="spacingAndGlyphs" class="tk">5000</text>
<line x1="316.80" y1="120.00" x2="320.20" y2="120.00" stroke="#000" stroke-width="1.2"/>
<text x="313.60" y="122.75" font-size="6.3" text-anchor="end" textLength="3.85" lengthAdjust="spacingAndGlyphs" class="tk">0</text>
<line x1="328.80" y1="120.80" x2="328.80" y2="124.20" stroke="#000" stroke-width="1.3"/>
<text x="328.80" y="132.55" font-size="6.3" text-anchor="middle" textLength="3.85" lengthAdjust="spacingAndGlyphs" class="tk">0</text>
<line x1="344.40" y1="120.80" x2="344.40" y2="124.20" stroke="#000" stroke-width="1.3"/>
<text x="344.40" y="132.55" font-size="6.3" text-anchor="middle" textLength="3.85" lengthAdjust="spacingAndGlyphs" class="tk">1</text>
<line x1="360.00" y1="120.80" x2="360.00" y2="124.20" stroke="#000" stroke-width="1.3"/>
<text x="360.00" y="132.55" font-size="6.3" text-anchor="middle" textLength="3.85" lengthAdjust="spacingAndGlyphs" class="tk">2</text>
<line x1="375.60" y1="120.80" x2="375.60" y2="124.20" stroke="#000" stroke-width="1.3"/>
<text x="375.60" y="132.55" font-size="6.3" text-anchor="middle" textLength="3.85" lengthAdjust="spacingAndGlyphs" class="tk">3</text>
<text x="289.30" y="81.05" font-size="9.8" text-anchor="middle" textLength="68.20" lengthAdjust="spacingAndGlyphs" transform="rotate(-90 289.30 81.05)" class="yt">ALL cells/uL blood</text>
<rect x="445.85" y="47.58" width="8.70" height="72.42" fill="#2e4c7e" stroke="#1c3358" stroke-width="0.6"/>
<line x1="450.20" y1="44.67" x2="450.20" y2="47.33" stroke="#1c1c1c" stroke-width="1.0"/>
<line x1="447.60" y1="44.87" x2="452.80" y2="44.87" stroke="#1c1c1c" stroke-width="1.5"/>
<rect x="459.60" y="67.58" width="8.70" height="52.42" fill="#a80429" stroke="#780019" stroke-width="0.6"/>
<line x1="463.95" y1="64.80" x2="463.95" y2="67.33" stroke="#1c1c1c" stroke-width="1.0"/>
<line x1="461.35" y1="65.00" x2="466.55" y2="65.00" stroke="#1c1c1c" stroke-width="1.5"/>
<circle cx="462.22" cy="59.33" r="1.2" fill="#151515"/>
<circle cx="465.68" cy="59.33" r="1.2" fill="#151515"/>
<rect x="473.35" y="64.25" width="8.70" height="55.75" fill="#c8037b" stroke="#94005a" stroke-width="0.6"/>
<line x1="477.70" y1="59.73" x2="477.70" y2="64.00" stroke="#1c1c1c" stroke-width="1.0"/>
<line x1="475.10" y1="59.93" x2="480.30" y2="59.93" stroke="#1c1c1c" stroke-width="1.5"/>
<circle cx="477.70" cy="55.73" r="1.2" fill="#151515"/>
<rect x="487.10" y="117.32" width="8.70" height="2.68" fill="#6aab3e" stroke="#4a8028" stroke-width="0.6"/>
<line x1="491.45" y1="116.27" x2="491.45" y2="117.07" stroke="#1c1c1c" stroke-width="1.0"/>
<line x1="488.85" y1="116.47" x2="494.05" y2="116.47" stroke="#1c1c1c" stroke-width="1.5"/>
<circle cx="486.27" cy="111.73" r="1.2" fill="#151515"/>
<circle cx="489.72" cy="111.73" r="1.2" fill="#151515"/>
<circle cx="493.18" cy="111.73" r="1.2" fill="#151515"/>
<circle cx="496.62" cy="111.73" r="1.2" fill="#151515"/>
<rect x="500.85" y="84.25" width="8.70" height="35.75" fill="#6aa7dd" stroke="#4a82b8" stroke-width="0.6"/>
<line x1="505.20" y1="77.07" x2="505.20" y2="84.00" stroke="#1c1c1c" stroke-width="1.0"/>
<line x1="502.60" y1="77.27" x2="507.80" y2="77.27" stroke="#1c1c1c" stroke-width="1.5"/>
<circle cx="500.02" cy="72.67" r="1.2" fill="#151515"/>
<circle cx="503.47" cy="72.67" r="1.2" fill="#151515"/>
<circle cx="506.93" cy="72.67" r="1.2" fill="#151515"/>
<circle cx="510.38" cy="72.67" r="1.2" fill="#151515"/>
<line x1="443.40" y1="36.50" x2="443.40" y2="120.70" stroke="#000" stroke-width="1.45"/>
<line x1="442.70" y1="120.00" x2="512.00" y2="120.00" stroke="#000" stroke-width="1.45"/>
<line x1="440.00" y1="40.00" x2="443.40" y2="40.00" stroke="#000" stroke-width="1.2"/>
<text x="436.80" y="42.75" font-size="6.3" text-anchor="end" textLength="11.55" lengthAdjust="spacingAndGlyphs" class="tk">600</text>
<line x1="440.00" y1="66.60" x2="443.40" y2="66.60" stroke="#000" stroke-width="1.2"/>
<text x="436.80" y="69.35" font-size="6.3" text-anchor="end" textLength="11.55" lengthAdjust="spacingAndGlyphs" class="tk">400</text>
<line x1="440.00" y1="93.30" x2="443.40" y2="93.30" stroke="#000" stroke-width="1.2"/>
<text x="436.80" y="96.05" font-size="6.3" text-anchor="end" textLength="11.55" lengthAdjust="spacingAndGlyphs" class="tk">200</text>
<line x1="440.00" y1="120.00" x2="443.40" y2="120.00" stroke="#000" stroke-width="1.2"/>
<text x="436.80" y="122.75" font-size="6.3" text-anchor="end" textLength="3.85" lengthAdjust="spacingAndGlyphs" class="tk">0</text>
<line x1="450.20" y1="120.00" x2="450.20" y2="123.40" stroke="#000" stroke-width="1.3"/>
<line x1="463.95" y1="120.00" x2="463.95" y2="123.40" stroke="#000" stroke-width="1.3"/>
<line x1="477.70" y1="120.00" x2="477.70" y2="123.40" stroke="#000" stroke-width="1.3"/>
<line x1="491.45" y1="120.00" x2="491.45" y2="123.40" stroke="#000" stroke-width="1.3"/>
<line x1="505.20" y1="120.00" x2="505.20" y2="123.40" stroke="#000" stroke-width="1.3"/>
<text x="419.40" y="78.25" font-size="9.8" text-anchor="middle" textLength="95.70" lengthAdjust="spacingAndGlyphs" transform="rotate(-90 419.40 78.25)" class="yt">ALL cells x 10e6 in spleen</text>
<path d="M332.00 248.85 L353.80 240.73 L375.50 189.81" fill="none" stroke="#2e3654" stroke-width="1.3" stroke-linejoin="round"/>
<path d="M332.00 248.85 L353.80 242.21 L375.50 198.66" fill="none" stroke="#80a8d6" stroke-width="1.3" stroke-linejoin="round"/>
<path d="M332.00 249.59 L353.80 250.32 L375.50 248.85" fill="none" stroke="#80b065" stroke-width="1.3" stroke-linejoin="round"/>
<path d="M332.00 248.85 L353.80 245.90 L375.50 238.52" fill="none" stroke="#8a1c44" stroke-width="1.3" stroke-linejoin="round"/>
<path d="M332.00 248.48 L353.80 237.78 L375.50 235.56" fill="none" stroke="#a2267a" stroke-width="1.3" stroke-linejoin="round"/>
<line x1="353.80" y1="245.16" x2="353.80" y2="234.83" stroke="#1a1a1a" stroke-width="1.3"/>
<line x1="352.45" y1="245.16" x2="355.15" y2="245.16" stroke="#1a1a1a" stroke-width="1.7"/>
<line x1="352.45" y1="234.83" x2="355.15" y2="234.83" stroke="#1a1a1a" stroke-width="1.7"/>
<line x1="375.50" y1="200.14" x2="375.50" y2="180.21" stroke="#1a1a1a" stroke-width="1.3"/>
<line x1="374.15" y1="200.14" x2="376.85" y2="200.14" stroke="#1a1a1a" stroke-width="1.7"/>
<line x1="374.15" y1="180.21" x2="376.85" y2="180.21" stroke="#1a1a1a" stroke-width="1.7"/>
<line x1="375.50" y1="200.88" x2="375.50" y2="196.45" stroke="#1a1a1a" stroke-width="1.3"/>
<line x1="374.15" y1="200.88" x2="376.85" y2="200.88" stroke="#1a1a1a" stroke-width="1.7"/>
<line x1="374.15" y1="196.45" x2="376.85" y2="196.45" stroke="#1a1a1a" stroke-width="1.7"/>
<line x1="375.50" y1="240.73" x2="375.50" y2="236.30" stroke="#1a1a1a" stroke-width="1.3"/>
<line x1="374.15" y1="240.73" x2="376.85" y2="240.73" stroke="#1a1a1a" stroke-width="1.7"/>
<line x1="374.15" y1="236.30" x2="376.85" y2="236.30" stroke="#1a1a1a" stroke-width="1.7"/>
<line x1="375.50" y1="237.04" x2="375.50" y2="234.09" stroke="#1a1a1a" stroke-width="1.3"/>
<line x1="374.15" y1="237.04" x2="376.85" y2="237.04" stroke="#1a1a1a" stroke-width="1.7"/>
<line x1="374.15" y1="234.09" x2="376.85" y2="234.09" stroke="#1a1a1a" stroke-width="1.7"/>
<circle cx="332.00" cy="248.85" r="1.7" fill="#1c1c1c"/>
<circle cx="353.80" cy="240.73" r="1.7" fill="#1c1c1c"/>
<circle cx="375.50" cy="189.81" r="1.7" fill="#1c1c1c"/>
<path d="M332.00 246.65L334.00 248.85L332.00 251.05L330.00 248.85Z" fill="none" stroke="#1c1c1c" stroke-width="1"/>
<path d="M353.80 240.01L355.80 242.21L353.80 244.41L351.80 242.21Z" fill="none" stroke="#1c1c1c" stroke-width="1"/>
<path d="M375.50 196.46L377.50 198.66L375.50 200.86L373.50 198.66Z" fill="none" stroke="#1c1c1c" stroke-width="1"/>
<path d="M332.00 251.69L334.10 247.99L329.90 247.99Z" fill="#1c1c1c"/>
<path d="M353.80 252.42L355.90 248.72L351.70 248.72Z" fill="#1c1c1c"/>
<path d="M375.50 250.95L377.60 247.25L373.40 247.25Z" fill="#1c1c1c"/>
<rect x="330.30" y="247.15" width="3.40" height="3.40" fill="#1c1c1c"/>
<rect x="352.10" y="244.20" width="3.40" height="3.40" fill="#1c1c1c"/>
<rect x="373.80" y="236.82" width="3.40" height="3.40" fill="#1c1c1c"/>
<path d="M332.00 246.38L334.10 250.08L329.90 250.08Z" fill="#1c1c1c"/>
<path d="M353.80 235.68L355.90 239.38L351.70 239.38Z" fill="#1c1c1c"/>
<path d="M375.50 233.46L377.60 237.16L373.40 237.16Z" fill="#1c1c1c"/>
<line x1="320.20" y1="175.80" x2="320.20" y2="253.00" stroke="#000" stroke-width="1.45"/>
<line x1="319.50" y1="252.30" x2="386.70" y2="252.30" stroke="#000" stroke-width="1.45"/>
<line x1="316.80" y1="178.00" x2="320.20" y2="178.00" stroke="#000" stroke-width="1.2"/>
<text x="313.60" y="180.75" font-size="6.3" text-anchor="end" textLength="19.25" lengthAdjust="spacingAndGlyphs" class="tk">10000</text>
<line x1="316.80" y1="196.50" x2="320.20" y2="196.50" stroke="#000" stroke-width="1.2"/>
<text x="313.60" y="199.25" font-size="6.3" text-anchor="end" textLength="15.40" lengthAdjust="spacingAndGlyphs" class="tk">7500</text>
<line x1="316.80" y1="214.90" x2="320.20" y2="214.90" stroke="#000" stroke-width="1.2"/>
<text x="313.60" y="217.65" font-size="6.3" text-anchor="end" textLength="15.40" lengthAdjust="spacingAndGlyphs" class="tk">5000</text>
<line x1="316.80" y1="233.40" x2="320.20" y2="233.40" stroke="#000" stroke-width="1.2"/>
<text x="313.60" y="236.15" font-size="6.3" text-anchor="end" textLength="15.40" lengthAdjust="spacingAndGlyphs" class="tk">2500</text>
<line x1="316.80" y1="251.80" x2="320.20" y2="251.80" stroke="#000" stroke-width="1.2"/>
<text x="313.60" y="254.55" font-size="6.3" text-anchor="end" textLength="3.85" lengthAdjust="spacingAndGlyphs" class="tk">0</text>
<line x1="332.00" y1="252.30" x2="332.00" y2="255.70" stroke="#000" stroke-width="1.3"/>
<text x="332.00" y="264.25" font-size="6.3" text-anchor="middle" textLength="3.85" lengthAdjust="spacingAndGlyphs" class="tk">0</text>
<line x1="353.80" y1="252.30" x2="353.80" y2="255.70" stroke="#000" stroke-width="1.3"/>
<text x="353.80" y="264.25" font-size="6.3" text-anchor="middle" textLength="9.60" lengthAdjust="spacingAndGlyphs" class="tk">1.5</text>
<line x1="375.50" y1="252.30" x2="375.50" y2="255.70" stroke="#000" stroke-width="1.3"/>
<text x="375.50" y="264.25" font-size="6.3" text-anchor="middle" textLength="3.85" lengthAdjust="spacingAndGlyphs" class="tk">3</text>
<text x="289.50" y="214.05" font-size="9.8" text-anchor="middle" textLength="68.20" lengthAdjust="spacingAndGlyphs" transform="rotate(-90 289.50 214.05)" class="yt">ALL cells/uL blood</text>
<rect x="445.75" y="187.16" width="8.70" height="64.84" fill="#2e4c7e" stroke="#1c3358" stroke-width="0.6"/>
<line x1="450.10" y1="180.93" x2="450.10" y2="186.91" stroke="#1c1c1c" stroke-width="1.0"/>
<line x1="447.50" y1="181.13" x2="452.70" y2="181.13" stroke="#1c1c1c" stroke-width="1.5"/>
<rect x="459.50" y="221.70" width="8.70" height="30.30" fill="#a80429" stroke="#780019" stroke-width="0.6"/>
<line x1="463.85" y1="217.46" x2="463.85" y2="221.45" stroke="#1c1c1c" stroke-width="1.0"/>
<line x1="461.25" y1="217.66" x2="466.45" y2="217.66" stroke="#1c1c1c" stroke-width="1.5"/>
<circle cx="458.68" cy="212.81" r="1.2" fill="#151515"/>
<circle cx="462.12" cy="212.81" r="1.2" fill="#151515"/>
<circle cx="465.58" cy="212.81" r="1.2" fill="#151515"/>
<circle cx="469.03" cy="212.81" r="1.2" fill="#151515"/>
<rect x="473.25" y="209.74" width="8.70" height="42.26" fill="#c8037b" stroke="#94005a" stroke-width="0.6"/>
<line x1="477.60" y1="205.24" x2="477.60" y2="209.49" stroke="#1c1c1c" stroke-width="1.0"/>
<line x1="475.00" y1="205.44" x2="480.20" y2="205.44" stroke="#1c1c1c" stroke-width="1.5"/>
<circle cx="475.88" cy="200.86" r="1.2" fill="#151515"/>
<circle cx="479.33" cy="200.86" r="1.2" fill="#151515"/>
<rect x="487.00" y="245.61" width="8.70" height="6.39" fill="#6aab3e" stroke="#4a8028" stroke-width="0.6"/>
<line x1="491.35" y1="244.69" x2="491.35" y2="245.36" stroke="#1c1c1c" stroke-width="1.0"/>
<line x1="488.75" y1="244.89" x2="493.95" y2="244.89" stroke="#1c1c1c" stroke-width="1.5"/>
<circle cx="486.18" cy="240.05" r="1.2" fill="#151515"/>
<circle cx="489.62" cy="240.05" r="1.2" fill="#151515"/>
<circle cx="493.08" cy="240.05" r="1.2" fill="#151515"/>
<circle cx="496.53" cy="240.05" r="1.2" fill="#151515"/>
<rect x="500.75" y="195.13" width="8.70" height="56.87" fill="#6aa7dd" stroke="#4a82b8" stroke-width="0.6"/>
<line x1="505.10" y1="190.23" x2="505.10" y2="194.88" stroke="#1c1c1c" stroke-width="1.0"/>
<line x1="502.50" y1="190.43" x2="507.70" y2="190.43" stroke="#1c1c1c" stroke-width="1.5"/>
<line x1="443.30" y1="169.30" x2="443.30" y2="252.70" stroke="#000" stroke-width="1.45"/>
<line x1="442.60" y1="252.00" x2="512.00" y2="252.00" stroke="#000" stroke-width="1.45"/>
<line x1="439.90" y1="172.30" x2="443.30" y2="172.30" stroke="#000" stroke-width="1.2"/>
<text x="436.70" y="175.05" font-size="6.3" text-anchor="end" textLength="11.55" lengthAdjust="spacingAndGlyphs" class="tk">600</text>
<line x1="439.90" y1="198.90" x2="443.30" y2="198.90" stroke="#000" stroke-width="1.2"/>
<text x="436.70" y="201.65" font-size="6.3" text-anchor="end" textLength="11.55" lengthAdjust="spacingAndGlyphs" class="tk">400</text>
<line x1="439.90" y1="225.40" x2="443.30" y2="225.40" stroke="#000" stroke-width="1.2"/>
<text x="436.70" y="228.15" font-size="6.3" text-anchor="end" textLength="11.55" lengthAdjust="spacingAndGlyphs" class="tk">200</text>
<line x1="439.90" y1="252.00" x2="443.30" y2="252.00" stroke="#000" stroke-width="1.2"/>
<text x="436.70" y="254.75" font-size="6.3" text-anchor="end" textLength="3.85" lengthAdjust="spacingAndGlyphs" class="tk">0</text>
<line x1="450.10" y1="252.00" x2="450.10" y2="255.40" stroke="#000" stroke-width="1.3"/>
<line x1="463.85" y1="252.00" x2="463.85" y2="255.40" stroke="#000" stroke-width="1.3"/>
<line x1="477.60" y1="252.00" x2="477.60" y2="255.40" stroke="#000" stroke-width="1.3"/>
<line x1="491.35" y1="252.00" x2="491.35" y2="255.40" stroke="#000" stroke-width="1.3"/>
<line x1="505.10" y1="252.00" x2="505.10" y2="255.40" stroke="#000" stroke-width="1.3"/>
<text x="419.60" y="210.65" font-size="9.8" text-anchor="middle" textLength="95.70" lengthAdjust="spacingAndGlyphs" transform="rotate(-90 419.60 210.65)" class="yt">ALL cells x 10e6 in spleen</text>
<path d="M332.20 369.71 L354.70 365.18 L377.40 327.11" fill="none" stroke="#2e3654" stroke-width="1.3" stroke-linejoin="round"/>
<path d="M332.20 369.71 L354.70 368.80 L377.40 331.64" fill="none" stroke="#80a8d6" stroke-width="1.3" stroke-linejoin="round"/>
<path d="M332.20 371.52 L354.70 367.89 L377.40 383.30" fill="none" stroke="#80b065" stroke-width="1.3" stroke-linejoin="round"/>
<path d="M332.20 374.24 L354.70 373.33 L377.40 360.64" fill="none" stroke="#8a1c44" stroke-width="1.3" stroke-linejoin="round"/>
<path d="M332.20 370.61 L354.70 361.55 L377.40 337.99" fill="none" stroke="#a2267a" stroke-width="1.3" stroke-linejoin="round"/>
<line x1="377.40" y1="328.93" x2="377.40" y2="325.30" stroke="#1a1a1a" stroke-width="1.3"/>
<line x1="376.05" y1="328.93" x2="378.75" y2="328.93" stroke="#1a1a1a" stroke-width="1.7"/>
<line x1="376.05" y1="325.30" x2="378.75" y2="325.30" stroke="#1a1a1a" stroke-width="1.7"/>
<line x1="332.20" y1="377.86" x2="332.20" y2="370.61" stroke="#1a1a1a" stroke-width="1.3"/>
<line x1="330.85" y1="377.86" x2="333.55" y2="377.86" stroke="#1a1a1a" stroke-width="1.7"/>
<line x1="330.85" y1="370.61" x2="333.55" y2="370.61" stroke="#1a1a1a" stroke-width="1.7"/>
<line x1="354.70" y1="375.14" x2="354.70" y2="371.52" stroke="#1a1a1a" stroke-width="1.3"/>
<line x1="353.35" y1="375.14" x2="356.05" y2="375.14" stroke="#1a1a1a" stroke-width="1.7"/>
<line x1="353.35" y1="371.52" x2="356.05" y2="371.52" stroke="#1a1a1a" stroke-width="1.7"/>
<line x1="377.40" y1="366.99" x2="377.40" y2="354.30" stroke="#1a1a1a" stroke-width="1.3"/>
<line x1="376.05" y1="366.99" x2="378.75" y2="366.99" stroke="#1a1a1a" stroke-width="1.7"/>
<line x1="376.05" y1="354.30" x2="378.75" y2="354.30" stroke="#1a1a1a" stroke-width="1.7"/>
<line x1="354.70" y1="366.99" x2="354.70" y2="356.11" stroke="#1a1a1a" stroke-width="1.3"/>
<line x1="353.35" y1="366.99" x2="356.05" y2="366.99" stroke="#1a1a1a" stroke-width="1.7"/>
<line x1="353.35" y1="356.11" x2="356.05" y2="356.11" stroke="#1a1a1a" stroke-width="1.7"/>
<line x1="377.40" y1="341.61" x2="377.40" y2="334.36" stroke="#1a1a1a" stroke-width="1.3"/>
<line x1="376.05" y1="341.61" x2="378.75" y2="341.61" stroke="#1a1a1a" stroke-width="1.7"/>
<line x1="376.05" y1="334.36" x2="378.75" y2="334.36" stroke="#1a1a1a" stroke-width="1.7"/>
<circle cx="332.20" cy="369.71" r="1.7" fill="#1c1c1c"/>
<circle cx="354.70" cy="365.18" r="1.7" fill="#1c1c1c"/>
<circle cx="377.40" cy="327.11" r="1.7" fill="#1c1c1c"/>
<path d="M332.20 367.51L334.20 369.71L332.20 371.91L330.20 369.71Z" fill="none" stroke="#1c1c1c" stroke-width="1"/>
<path d="M354.70 366.60L356.70 368.80L354.70 371.00L352.70 368.80Z" fill="none" stroke="#1c1c1c" stroke-width="1"/>
<path d="M377.40 329.44L379.40 331.64L377.40 333.84L375.40 331.64Z" fill="none" stroke="#1c1c1c" stroke-width="1"/>
<path d="M332.20 373.62L334.30 369.92L330.10 369.92Z" fill="#1c1c1c"/>
<path d="M354.70 369.99L356.80 366.29L352.60 366.29Z" fill="#1c1c1c"/>
<path d="M377.40 385.40L379.50 381.70L375.30 381.70Z" fill="#1c1c1c"/>
<rect x="330.50" y="372.54" width="3.40" height="3.40" fill="#1c1c1c"/>
<rect x="353.00" y="371.63" width="3.40" height="3.40" fill="#1c1c1c"/>
<rect x="375.70" y="358.94" width="3.40" height="3.40" fill="#1c1c1c"/>
<path d="M332.20 368.51L334.30 372.21L330.10 372.21Z" fill="#1c1c1c"/>
<path d="M354.70 359.45L356.80 363.15L352.60 363.15Z" fill="#1c1c1c"/>
<path d="M377.40 335.89L379.50 339.59L375.30 339.59Z" fill="#1c1c1c"/>
<line x1="320.20" y1="308.80" x2="320.20" y2="384.50" stroke="#000" stroke-width="1.45"/>
<line x1="319.50" y1="383.80" x2="388.80" y2="383.80" stroke="#000" stroke-width="1.45"/>
<line x1="316.80" y1="310.80" x2="320.20" y2="310.80" stroke="#000" stroke-width="1.2"/>
<text x="313.60" y="313.55" font-size="6.3" text-anchor="end" textLength="19.25" lengthAdjust="spacingAndGlyphs" class="tk">80000</text>
<line x1="316.80" y1="329.20" x2="320.20" y2="329.20" stroke="#000" stroke-width="1.2"/>
<text x="313.60" y="331.95" font-size="6.3" text-anchor="end" textLength="19.25" lengthAdjust="spacingAndGlyphs" class="tk">60000</text>
<line x1="316.80" y1="347.40" x2="320.20" y2="347.40" stroke="#000" stroke-width="1.2"/>
<text x="313.60" y="350.15" font-size="6.3" text-anchor="end" textLength="19.25" lengthAdjust="spacingAndGlyphs" class="tk">40000</text>
<line x1="316.80" y1="365.50" x2="320.20" y2="365.50" stroke="#000" stroke-width="1.2"/>
<text x="313.60" y="368.25" font-size="6.3" text-anchor="end" textLength="19.25" lengthAdjust="spacingAndGlyphs" class="tk">20000</text>
<line x1="316.80" y1="383.30" x2="320.20" y2="383.30" stroke="#000" stroke-width="1.2"/>
<text x="313.60" y="386.05" font-size="6.3" text-anchor="end" textLength="3.85" lengthAdjust="spacingAndGlyphs" class="tk">0</text>
<line x1="332.20" y1="383.80" x2="332.20" y2="387.20" stroke="#000" stroke-width="1.3"/>
<text x="332.20" y="395.75" font-size="6.3" text-anchor="middle" textLength="3.85" lengthAdjust="spacingAndGlyphs" class="tk">0</text>
<line x1="354.70" y1="383.80" x2="354.70" y2="387.20" stroke="#000" stroke-width="1.3"/>
<text x="354.70" y="395.75" font-size="6.3" text-anchor="middle" textLength="3.85" lengthAdjust="spacingAndGlyphs" class="tk">2</text>
<line x1="377.40" y1="383.80" x2="377.40" y2="387.20" stroke="#000" stroke-width="1.3"/>
<text x="377.40" y="395.75" font-size="6.3" text-anchor="middle" textLength="3.85" lengthAdjust="spacingAndGlyphs" class="tk">3</text>
<text x="289.50" y="346.30" font-size="9.8" text-anchor="middle" textLength="68.20" lengthAdjust="spacingAndGlyphs" transform="rotate(-90 289.50 346.30)" class="yt">ALL cells/uL blood</text>
<rect x="445.85" y="326.34" width="8.70" height="57.46" fill="#2e4c7e" stroke="#1c3358" stroke-width="0.6"/>
<line x1="450.20" y1="320.12" x2="450.20" y2="326.09" stroke="#1c1c1c" stroke-width="1.0"/>
<line x1="447.60" y1="320.32" x2="452.80" y2="320.32" stroke="#1c1c1c" stroke-width="1.5"/>
<rect x="459.60" y="368.73" width="8.70" height="15.07" fill="#a80429" stroke="#780019" stroke-width="0.6"/>
<line x1="463.95" y1="365.89" x2="463.95" y2="368.48" stroke="#1c1c1c" stroke-width="1.0"/>
<line x1="461.35" y1="366.09" x2="466.55" y2="366.09" stroke="#1c1c1c" stroke-width="1.5"/>
<circle cx="460.50" cy="360.92" r="1.2" fill="#151515"/>
<circle cx="463.95" cy="360.92" r="1.2" fill="#151515"/>
<circle cx="467.40" cy="360.92" r="1.2" fill="#151515"/>
<rect x="473.35" y="338.28" width="8.70" height="45.52" fill="#c8037b" stroke="#94005a" stroke-width="0.6"/>
<line x1="477.70" y1="331.06" x2="477.70" y2="338.03" stroke="#1c1c1c" stroke-width="1.0"/>
<line x1="475.10" y1="331.26" x2="480.30" y2="331.26" stroke="#1c1c1c" stroke-width="1.5"/>
<rect x="487.10" y="377.09" width="8.70" height="6.71" fill="#6aab3e" stroke="#4a8028" stroke-width="0.6"/>
<line x1="491.45" y1="375.84" x2="491.45" y2="376.84" stroke="#1c1c1c" stroke-width="1.0"/>
<line x1="488.85" y1="376.04" x2="494.05" y2="376.04" stroke="#1c1c1c" stroke-width="1.5"/>
<circle cx="486.27" cy="371.46" r="1.2" fill="#151515"/>
<circle cx="489.72" cy="371.46" r="1.2" fill="#151515"/>
<circle cx="493.18" cy="371.46" r="1.2" fill="#151515"/>
<circle cx="496.62" cy="371.46" r="1.2" fill="#151515"/>
<rect x="500.85" y="345.25" width="8.70" height="38.56" fill="#6aa7dd" stroke="#4a82b8" stroke-width="0.6"/>
<line x1="505.20" y1="339.02" x2="505.20" y2="345.00" stroke="#1c1c1c" stroke-width="1.0"/>
<line x1="502.60" y1="339.22" x2="507.80" y2="339.22" stroke="#1c1c1c" stroke-width="1.5"/>
<line x1="443.40" y1="301.20" x2="443.40" y2="384.50" stroke="#000" stroke-width="1.45"/>
<line x1="442.70" y1="383.80" x2="512.00" y2="383.80" stroke="#000" stroke-width="1.45"/>
<line x1="440.00" y1="304.20" x2="443.40" y2="304.20" stroke="#000" stroke-width="1.2"/>
<text x="436.80" y="306.95" font-size="6.3" text-anchor="end" textLength="11.55" lengthAdjust="spacingAndGlyphs" class="tk">400</text>
<line x1="440.00" y1="324.10" x2="443.40" y2="324.10" stroke="#000" stroke-width="1.2"/>
<text x="436.80" y="326.85" font-size="6.3" text-anchor="end" textLength="11.55" lengthAdjust="spacingAndGlyphs" class="tk">300</text>
<line x1="440.00" y1="344.00" x2="443.40" y2="344.00" stroke="#000" stroke-width="1.2"/>
<text x="436.80" y="346.75" font-size="6.3" text-anchor="end" textLength="11.55" lengthAdjust="spacingAndGlyphs" class="tk">200</text>
<line x1="440.00" y1="363.90" x2="443.40" y2="363.90" stroke="#000" stroke-width="1.2"/>
<text x="436.80" y="366.65" font-size="6.3" text-anchor="end" textLength="11.55" lengthAdjust="spacingAndGlyphs" class="tk">100</text>
<line x1="440.00" y1="383.80" x2="443.40" y2="383.80" stroke="#000" stroke-width="1.2"/>
<text x="436.80" y="386.55" font-size="6.3" text-anchor="end" textLength="3.85" lengthAdjust="spacingAndGlyphs" class="tk">0</text>
<line x1="450.20" y1="383.80" x2="450.20" y2="387.20" stroke="#000" stroke-width="1.3"/>
<line x1="463.95" y1="383.80" x2="463.95" y2="387.20" stroke="#000" stroke-width="1.3"/>
<line x1="477.70" y1="383.80" x2="477.70" y2="387.20" stroke="#000" stroke-width="1.3"/>
<line x1="491.45" y1="383.80" x2="491.45" y2="387.20" stroke="#000" stroke-width="1.3"/>
<line x1="505.20" y1="383.80" x2="505.20" y2="387.20" stroke="#000" stroke-width="1.3"/>
<text x="419.80" y="342.50" font-size="9.8" text-anchor="middle" textLength="95.70" lengthAdjust="spacingAndGlyphs" transform="rotate(-90 419.80 342.50)" class="yt">ALL cells x 10e6 in spleen</text>
<path d="M328.80 493.35 L363.80 460.50 L381.30 439.69" fill="none" stroke="#2e3654" stroke-width="1.3" stroke-linejoin="round"/>
<path d="M328.80 494.08 L363.80 480.57 L381.30 469.62" fill="none" stroke="#80a8d6" stroke-width="1.3" stroke-linejoin="round"/>
<path d="M328.80 495.18 L363.80 501.38 L381.30 503.94" fill="none" stroke="#80b065" stroke-width="1.3" stroke-linejoin="round"/>
<path d="M328.80 495.54 L363.80 477.66 L381.30 474.00" fill="none" stroke="#8a1c44" stroke-width="1.3" stroke-linejoin="round"/>
<path d="M328.80 494.81 L363.80 459.77 L381.30 456.85" fill="none" stroke="#a2267a" stroke-width="1.3" stroke-linejoin="round"/>
<line x1="381.30" y1="445.90" x2="381.30" y2="433.49" stroke="#1a1a1a" stroke-width="1.3"/>
<line x1="379.95" y1="445.90" x2="382.65" y2="445.90" stroke="#1a1a1a" stroke-width="1.7"/>
<line x1="379.95" y1="433.49" x2="382.65" y2="433.49" stroke="#1a1a1a" stroke-width="1.7"/>
<line x1="363.80" y1="481.67" x2="363.80" y2="472.91" stroke="#1a1a1a" stroke-width="1.3"/>
<line x1="362.45" y1="481.67" x2="365.15" y2="481.67" stroke="#1a1a1a" stroke-width="1.7"/>
<line x1="362.45" y1="472.91" x2="365.15" y2="472.91" stroke="#1a1a1a" stroke-width="1.7"/>
<line x1="381.30" y1="476.19" x2="381.30" y2="471.81" stroke="#1a1a1a" stroke-width="1.3"/>
<line x1="379.95" y1="476.19" x2="382.65" y2="476.19" stroke="#1a1a1a" stroke-width="1.7"/>
<line x1="379.95" y1="471.81" x2="382.65" y2="471.81" stroke="#1a1a1a" stroke-width="1.7"/>
<line x1="363.80" y1="464.88" x2="363.80" y2="454.30" stroke="#1a1a1a" stroke-width="1.3"/>
<line x1="362.45" y1="464.88" x2="365.15" y2="464.88" stroke="#1a1a1a" stroke-width="1.7"/>
<line x1="362.45" y1="454.30" x2="365.15" y2="454.30" stroke="#1a1a1a" stroke-width="1.7"/>
<line x1="381.30" y1="460.50" x2="381.30" y2="452.11" stroke="#1a1a1a" stroke-width="1.3"/>
<line x1="379.95" y1="460.50" x2="382.65" y2="460.50" stroke="#1a1a1a" stroke-width="1.7"/>
<line x1="379.95" y1="452.11" x2="382.65" y2="452.11" stroke="#1a1a1a" stroke-width="1.7"/>
<circle cx="328.80" cy="493.35" r="1.7" fill="#1c1c1c"/>
<circle cx="363.80" cy="460.50" r="1.7" fill="#1c1c1c"/>
<circle cx="381.30" cy="439.69" r="1.7" fill="#1c1c1c"/>
<path d="M328.80 491.88L330.80 494.08L328.80 496.28L326.80 494.08Z" fill="none" stroke="#1c1c1c" stroke-width="1"/>
<path d="M363.80 478.38L365.80 480.57L363.80 482.77L361.80 480.57Z" fill="none" stroke="#1c1c1c" stroke-width="1"/>
<path d="M381.30 467.43L383.30 469.62L381.30 471.82L379.30 469.62Z" fill="none" stroke="#1c1c1c" stroke-width="1"/>
<path d="M328.80 497.28L330.90 493.57L326.70 493.57Z" fill="#1c1c1c"/>
<path d="M363.80 503.48L365.90 499.78L361.70 499.78Z" fill="#1c1c1c"/>
<path d="M381.30 506.04L383.40 502.33L379.20 502.33Z" fill="#1c1c1c"/>
<rect x="327.10" y="493.84" width="3.40" height="3.40" fill="#1c1c1c"/>
<rect x="362.10" y="475.96" width="3.40" height="3.40" fill="#1c1c1c"/>
<rect x="379.60" y="472.31" width="3.40" height="3.40" fill="#1c1c1c"/>
<path d="M328.80 492.71L330.90 496.41L326.70 496.41Z" fill="#1c1c1c"/>
<path d="M363.80 457.67L365.90 461.37L361.70 461.37Z" fill="#1c1c1c"/>
<path d="M381.30 454.75L383.40 458.45L379.20 458.45Z" fill="#1c1c1c"/>
<line x1="320.20" y1="428.80" x2="320.20" y2="505.70" stroke="#000" stroke-width="1.45"/>
<line x1="319.50" y1="505.00" x2="391.00" y2="505.00" stroke="#000" stroke-width="1.45"/>
<line x1="316.80" y1="431.30" x2="320.20" y2="431.30" stroke="#000" stroke-width="1.2"/>
<text x="313.60" y="434.05" font-size="6.3" text-anchor="end" textLength="19.25" lengthAdjust="spacingAndGlyphs" class="tk">20000</text>
<line x1="316.80" y1="449.50" x2="320.20" y2="449.50" stroke="#000" stroke-width="1.2"/>
<text x="313.60" y="452.25" font-size="6.3" text-anchor="end" textLength="19.25" lengthAdjust="spacingAndGlyphs" class="tk">15000</text>
<line x1="316.80" y1="467.80" x2="320.20" y2="467.80" stroke="#000" stroke-width="1.2"/>
<text x="313.60" y="470.55" font-size="6.3" text-anchor="end" textLength="19.25" lengthAdjust="spacingAndGlyphs" class="tk">10000</text>
<line x1="316.80" y1="486.00" x2="320.20" y2="486.00" stroke="#000" stroke-width="1.2"/>
<text x="313.60" y="488.75" font-size="6.3" text-anchor="end" textLength="15.40" lengthAdjust="spacingAndGlyphs" class="tk">5000</text>
<line x1="316.80" y1="504.30" x2="320.20" y2="504.30" stroke="#000" stroke-width="1.2"/>
<text x="313.60" y="507.05" font-size="6.3" text-anchor="end" textLength="3.85" lengthAdjust="spacingAndGlyphs" class="tk">0</text>
<line x1="328.80" y1="505.00" x2="328.80" y2="508.40" stroke="#000" stroke-width="1.3"/>
<text x="328.80" y="516.55" font-size="6.3" text-anchor="middle" textLength="3.85" lengthAdjust="spacingAndGlyphs" class="tk">0</text>
<line x1="346.30" y1="505.00" x2="346.30" y2="508.40" stroke="#000" stroke-width="1.3"/>
<text x="346.30" y="516.55" font-size="6.3" text-anchor="middle" textLength="3.85" lengthAdjust="spacingAndGlyphs" class="tk">1</text>
<line x1="363.80" y1="505.00" x2="363.80" y2="508.40" stroke="#000" stroke-width="1.3"/>
<text x="363.80" y="516.55" font-size="6.3" text-anchor="middle" textLength="3.85" lengthAdjust="spacingAndGlyphs" class="tk">2</text>
<line x1="381.30" y1="505.00" x2="381.30" y2="508.40" stroke="#000" stroke-width="1.3"/>
<text x="381.30" y="516.55" font-size="6.3" text-anchor="middle" textLength="3.85" lengthAdjust="spacingAndGlyphs" class="tk">3</text>
<text x="289.30" y="466.90" font-size="9.8" text-anchor="middle" textLength="68.20" lengthAdjust="spacingAndGlyphs" transform="rotate(-90 289.30 466.90)" class="yt">ALL cells/uL blood</text>
<rect x="445.75" y="459.59" width="8.70" height="44.71" fill="#2e4c7e" stroke="#1c3358" stroke-width="0.6"/>
<line x1="450.10" y1="453.68" x2="450.10" y2="459.34" stroke="#1c1c1c" stroke-width="1.0"/>
<line x1="447.50" y1="453.88" x2="452.70" y2="453.88" stroke="#1c1c1c" stroke-width="1.5"/>
<rect x="459.50" y="464.55" width="8.70" height="39.75" fill="#a80429" stroke="#780019" stroke-width="0.6"/>
<line x1="463.85" y1="458.99" x2="463.85" y2="464.30" stroke="#1c1c1c" stroke-width="1.0"/>
<line x1="461.25" y1="459.19" x2="466.45" y2="459.19" stroke="#1c1c1c" stroke-width="1.5"/>
<rect x="473.25" y="447.91" width="8.70" height="56.39" fill="#c8037b" stroke="#94005a" stroke-width="0.6"/>
<line x1="477.60" y1="442.70" x2="477.60" y2="447.66" stroke="#1c1c1c" stroke-width="1.0"/>
<line x1="475.00" y1="442.90" x2="480.20" y2="442.90" stroke="#1c1c1c" stroke-width="1.5"/>
<rect x="487.00" y="491.81" width="8.70" height="12.49" fill="#6aab3e" stroke="#4a8028" stroke-width="0.6"/>
<line x1="491.35" y1="488.72" x2="491.35" y2="491.56" stroke="#1c1c1c" stroke-width="1.0"/>
<line x1="488.75" y1="488.92" x2="493.95" y2="488.92" stroke="#1c1c1c" stroke-width="1.5"/>
<circle cx="487.90" cy="483.77" r="1.2" fill="#151515"/>
<circle cx="491.35" cy="483.77" r="1.2" fill="#151515"/>
<circle cx="494.80" cy="483.77" r="1.2" fill="#151515"/>
<rect x="500.75" y="473.40" width="8.70" height="30.90" fill="#6aa7dd" stroke="#4a82b8" stroke-width="0.6"/>
<line x1="505.10" y1="466.78" x2="505.10" y2="473.15" stroke="#1c1c1c" stroke-width="1.0"/>
<line x1="502.50" y1="466.98" x2="507.70" y2="466.98" stroke="#1c1c1c" stroke-width="1.5"/>
<line x1="443.30" y1="430.70" x2="443.30" y2="505.00" stroke="#000" stroke-width="1.45"/>
<line x1="442.60" y1="504.30" x2="512.00" y2="504.30" stroke="#000" stroke-width="1.45"/>
<line x1="439.90" y1="433.50" x2="443.30" y2="433.50" stroke="#000" stroke-width="1.2"/>
<text x="436.70" y="436.25" font-size="6.3" text-anchor="end" textLength="15.40" lengthAdjust="spacingAndGlyphs" class="tk">1000</text>
<line x1="439.90" y1="451.20" x2="443.30" y2="451.20" stroke="#000" stroke-width="1.2"/>
<text x="436.70" y="453.95" font-size="6.3" text-anchor="end" textLength="11.55" lengthAdjust="spacingAndGlyphs" class="tk">750</text>
<line x1="439.90" y1="468.90" x2="443.30" y2="468.90" stroke="#000" stroke-width="1.2"/>
<text x="436.70" y="471.65" font-size="6.3" text-anchor="end" textLength="11.55" lengthAdjust="spacingAndGlyphs" class="tk">500</text>
<line x1="439.90" y1="486.60" x2="443.30" y2="486.60" stroke="#000" stroke-width="1.2"/>
<text x="436.70" y="489.35" font-size="6.3" text-anchor="end" textLength="11.55" lengthAdjust="spacingAndGlyphs" class="tk">250</text>
<line x1="439.90" y1="504.30" x2="443.30" y2="504.30" stroke="#000" stroke-width="1.2"/>
<text x="436.70" y="507.05" font-size="6.3" text-anchor="end" textLength="3.85" lengthAdjust="spacingAndGlyphs" class="tk">0</text>
<line x1="450.10" y1="504.30" x2="450.10" y2="507.70" stroke="#000" stroke-width="1.3"/>
<line x1="463.85" y1="504.30" x2="463.85" y2="507.70" stroke="#000" stroke-width="1.3"/>
<line x1="477.60" y1="504.30" x2="477.60" y2="507.70" stroke="#000" stroke-width="1.3"/>
<line x1="491.35" y1="504.30" x2="491.35" y2="507.70" stroke="#000" stroke-width="1.3"/>
<line x1="505.10" y1="504.30" x2="505.10" y2="507.70" stroke="#000" stroke-width="1.3"/>
<text x="416.50" y="467.50" font-size="9.8" text-anchor="middle" textLength="95.70" lengthAdjust="spacingAndGlyphs" transform="rotate(-90 416.50 467.50)" class="yt">ALL cells x 10e6 in spleen</text>
<path d="M330.50 617.71 L368.80 573.63" fill="none" stroke="#2e3654" stroke-width="1.3" stroke-linejoin="round"/>
<path d="M330.50 618.22 L368.80 581.23" fill="none" stroke="#80a8d6" stroke-width="1.3" stroke-linejoin="round"/>
<path d="M330.50 619.23 L368.80 613.15" fill="none" stroke="#80b065" stroke-width="1.3" stroke-linejoin="round"/>
<path d="M330.50 618.73 L368.80 588.83" fill="none" stroke="#8a1c44" stroke-width="1.3" stroke-linejoin="round"/>
<path d="M330.50 618.22 L368.80 575.66" fill="none" stroke="#a2267a" stroke-width="1.3" stroke-linejoin="round"/>
<line x1="368.80" y1="578.70" x2="368.80" y2="568.57" stroke="#1a1a1a" stroke-width="1.3"/>
<line x1="367.45" y1="578.70" x2="370.15" y2="578.70" stroke="#1a1a1a" stroke-width="1.7"/>
<line x1="367.45" y1="568.57" x2="370.15" y2="568.57" stroke="#1a1a1a" stroke-width="1.7"/>
<line x1="368.80" y1="615.69" x2="368.80" y2="610.62" stroke="#1a1a1a" stroke-width="1.3"/>
<line x1="367.45" y1="615.69" x2="370.15" y2="615.69" stroke="#1a1a1a" stroke-width="1.7"/>
<line x1="367.45" y1="610.62" x2="370.15" y2="610.62" stroke="#1a1a1a" stroke-width="1.7"/>
<line x1="368.80" y1="591.37" x2="368.80" y2="586.30" stroke="#1a1a1a" stroke-width="1.3"/>
<line x1="367.45" y1="591.37" x2="370.15" y2="591.37" stroke="#1a1a1a" stroke-width="1.7"/>
<line x1="367.45" y1="586.30" x2="370.15" y2="586.30" stroke="#1a1a1a" stroke-width="1.7"/>
<circle cx="330.50" cy="617.71" r="1.7" fill="#1c1c1c"/>
<circle cx="368.80" cy="573.63" r="1.7" fill="#1c1c1c"/>
<path d="M330.50 616.02L332.50 618.22L330.50 620.42L328.50 618.22Z" fill="none" stroke="#1c1c1c" stroke-width="1"/>
<path d="M368.80 579.03L370.80 581.23L368.80 583.43L366.80 581.23Z" fill="none" stroke="#1c1c1c" stroke-width="1"/>
<path d="M330.50 621.33L332.60 617.63L328.40 617.63Z" fill="#1c1c1c"/>
<path d="M368.80 615.25L370.90 611.55L366.70 611.55Z" fill="#1c1c1c"/>
<rect x="328.80" y="617.03" width="3.40" height="3.40" fill="#1c1c1c"/>
<rect x="367.10" y="587.13" width="3.40" height="3.40" fill="#1c1c1c"/>
<path d="M330.50 616.12L332.60 619.82L328.40 619.82Z" fill="#1c1c1c"/>
<path d="M368.80 573.56L370.90 577.26L366.70 577.26Z" fill="#1c1c1c"/>
<line x1="320.50" y1="546.30" x2="320.50" y2="625.20" stroke="#000" stroke-width="1.45"/>
<line x1="319.80" y1="624.50" x2="391.00" y2="624.50" stroke="#000" stroke-width="1.45"/>
<line x1="317.10" y1="548.30" x2="320.50" y2="548.30" stroke="#000" stroke-width="1.2"/>
<text x="313.90" y="551.05" font-size="6.3" text-anchor="end" textLength="19.25" lengthAdjust="spacingAndGlyphs" class="tk">15000</text>
<line x1="317.10" y1="573.60" x2="320.50" y2="573.60" stroke="#000" stroke-width="1.2"/>
<text x="313.90" y="576.35" font-size="6.3" text-anchor="end" textLength="19.25" lengthAdjust="spacingAndGlyphs" class="tk">10000</text>
<line x1="317.10" y1="599.00" x2="320.50" y2="599.00" stroke="#000" stroke-width="1.2"/>
<text x="313.90" y="601.75" font-size="6.3" text-anchor="end" textLength="15.40" lengthAdjust="spacingAndGlyphs" class="tk">5000</text>
<line x1="317.10" y1="624.30" x2="320.50" y2="624.30" stroke="#000" stroke-width="1.2"/>
<text x="313.90" y="627.05" font-size="6.3" text-anchor="end" textLength="3.85" lengthAdjust="spacingAndGlyphs" class="tk">0</text>
<line x1="330.50" y1="624.50" x2="330.50" y2="627.90" stroke="#000" stroke-width="1.3"/>
<text x="330.50" y="636.75" font-size="6.3" text-anchor="middle" textLength="3.85" lengthAdjust="spacingAndGlyphs" class="tk">0</text>
<line x1="349.60" y1="624.50" x2="349.60" y2="627.90" stroke="#000" stroke-width="1.3"/>
<text x="349.60" y="636.75" font-size="6.3" text-anchor="middle" textLength="3.85" lengthAdjust="spacingAndGlyphs" class="tk">1</text>
<line x1="368.80" y1="624.50" x2="368.80" y2="627.90" stroke="#000" stroke-width="1.3"/>
<text x="368.80" y="636.75" font-size="6.3" text-anchor="middle" textLength="3.85" lengthAdjust="spacingAndGlyphs" class="tk">2</text>
<line x1="387.60" y1="624.50" x2="387.60" y2="627.90" stroke="#000" stroke-width="1.3"/>
<text x="387.60" y="636.75" font-size="6.3" text-anchor="middle" textLength="3.85" lengthAdjust="spacingAndGlyphs" class="tk">3</text>
<text x="289.50" y="585.40" font-size="9.8" text-anchor="middle" textLength="68.20" lengthAdjust="spacingAndGlyphs" transform="rotate(-90 289.50 585.40)" class="yt">ALL cells/uL blood</text>
<text x="356.00" y="646.50" font-size="10.4" text-anchor="middle" textLength="67.30" lengthAdjust="spacingAndGlyphs" class="xt">Week of treatment</text>
<rect x="445.85" y="584.32" width="8.70" height="39.88" fill="#2e4c7e" stroke="#1c3358" stroke-width="0.6"/>
<line x1="450.20" y1="580.55" x2="450.20" y2="584.07" stroke="#1c1c1c" stroke-width="1.0"/>
<line x1="447.60" y1="580.75" x2="452.80" y2="580.75" stroke="#1c1c1c" stroke-width="1.5"/>
<rect x="459.60" y="597.98" width="8.70" height="26.22" fill="#a80429" stroke="#780019" stroke-width="0.6"/>
<line x1="463.95" y1="596.74" x2="463.95" y2="597.73" stroke="#1c1c1c" stroke-width="1.0"/>
<line x1="461.35" y1="596.94" x2="466.55" y2="596.94" stroke="#1c1c1c" stroke-width="1.5"/>
<circle cx="463.95" cy="591.82" r="1.2" fill="#151515"/>
<rect x="473.35" y="585.03" width="8.70" height="39.17" fill="#c8037b" stroke="#94005a" stroke-width="0.6"/>
<line x1="477.70" y1="580.55" x2="477.70" y2="584.78" stroke="#1c1c1c" stroke-width="1.0"/>
<line x1="475.10" y1="580.75" x2="480.30" y2="580.75" stroke="#1c1c1c" stroke-width="1.5"/>
<rect x="487.10" y="599.11" width="8.70" height="25.09" fill="#6aab3e" stroke="#4a8028" stroke-width="0.6"/>
<line x1="491.45" y1="596.32" x2="491.45" y2="598.86" stroke="#1c1c1c" stroke-width="1.0"/>
<line x1="488.85" y1="596.52" x2="494.05" y2="596.52" stroke="#1c1c1c" stroke-width="1.5"/>
<circle cx="491.45" cy="591.82" r="1.2" fill="#151515"/>
<rect x="500.85" y="573.76" width="8.70" height="50.44" fill="#6aa7dd" stroke="#4a82b8" stroke-width="0.6"/>
<line x1="505.20" y1="564.36" x2="505.20" y2="573.51" stroke="#1c1c1c" stroke-width="1.0"/>
<line x1="502.60" y1="564.56" x2="507.80" y2="564.56" stroke="#1c1c1c" stroke-width="1.5"/>
<line x1="443.40" y1="551.20" x2="443.40" y2="624.90" stroke="#000" stroke-width="1.45"/>
<line x1="442.70" y1="624.20" x2="512.00" y2="624.20" stroke="#000" stroke-width="1.45"/>
<line x1="440.00" y1="553.80" x2="443.40" y2="553.80" stroke="#000" stroke-width="1.2"/>
<text x="436.80" y="556.55" font-size="6.3" text-anchor="end" textLength="11.55" lengthAdjust="spacingAndGlyphs" class="tk">500</text>
<line x1="440.00" y1="589.00" x2="443.40" y2="589.00" stroke="#000" stroke-width="1.2"/>
<text x="436.80" y="591.75" font-size="6.3" text-anchor="end" textLength="11.55" lengthAdjust="spacingAndGlyphs" class="tk">250</text>
<line x1="440.00" y1="624.20" x2="443.40" y2="624.20" stroke="#000" stroke-width="1.2"/>
<text x="436.80" y="626.95" font-size="6.3" text-anchor="end" textLength="3.85" lengthAdjust="spacingAndGlyphs" class="tk">0</text>
<line x1="441.20" y1="571.40" x2="443.40" y2="571.40" stroke="#000" stroke-width="1.1"/>
<line x1="441.20" y1="606.60" x2="443.40" y2="606.60" stroke="#000" stroke-width="1.1"/>
<line x1="450.20" y1="624.20" x2="450.20" y2="627.60" stroke="#000" stroke-width="1.3"/>
<line x1="463.95" y1="624.20" x2="463.95" y2="627.60" stroke="#000" stroke-width="1.3"/>
<line x1="477.70" y1="624.20" x2="477.70" y2="627.60" stroke="#000" stroke-width="1.3"/>
<line x1="491.45" y1="624.20" x2="491.45" y2="627.60" stroke="#000" stroke-width="1.3"/>
<line x1="505.20" y1="624.20" x2="505.20" y2="627.60" stroke="#000" stroke-width="1.3"/>
<text x="419.80" y="587.70" font-size="9.8" text-anchor="middle" textLength="95.70" lengthAdjust="spacingAndGlyphs" transform="rotate(-90 419.80 587.70)" class="yt">ALL cells x 10e6 in spleen</text>
<text x="477.60" y="646.60" font-size="10.4" text-anchor="middle" textLength="60.50" lengthAdjust="spacingAndGlyphs" class="xt">Treatment group</text>
<rect x="107.00" y="667.00" width="13.00" height="7.00" fill="#2e4c7e"/>
<text x="123.70" y="673.20" font-size="9.3" text-anchor="start" textLength="28.80" lengthAdjust="spacingAndGlyphs" class="lg">vehicle</text>
<rect x="163.00" y="667.00" width="13.00" height="7.00" fill="#a80429"/>
<text x="179.70" y="673.20" font-size="9.3" text-anchor="start" textLength="33.50" lengthAdjust="spacingAndGlyphs" class="lg">BYL719</text>
<rect x="222.50" y="667.00" width="13.00" height="7.00" fill="#c8037b"/>
<text x="239.20" y="673.20" font-size="9.3" text-anchor="start" textLength="35.50" lengthAdjust="spacingAndGlyphs" class="lg">idelalisib</text>
<rect x="285.00" y="667.00" width="13.00" height="7.00" fill="#6aab3e"/>
<text x="301.70" y="673.20" font-size="9.3" text-anchor="start" textLength="45.30" lengthAdjust="spacingAndGlyphs" class="lg">gedatolisib</text>
<rect x="357.00" y="667.00" width="13.00" height="7.00" fill="#6aa7dd"/>
<text x="373.70" y="673.20" font-size="9.3" text-anchor="start" textLength="39.00" lengthAdjust="spacingAndGlyphs" class="lg">AZD2014</text>
</g>
</svg>
</body></html>
